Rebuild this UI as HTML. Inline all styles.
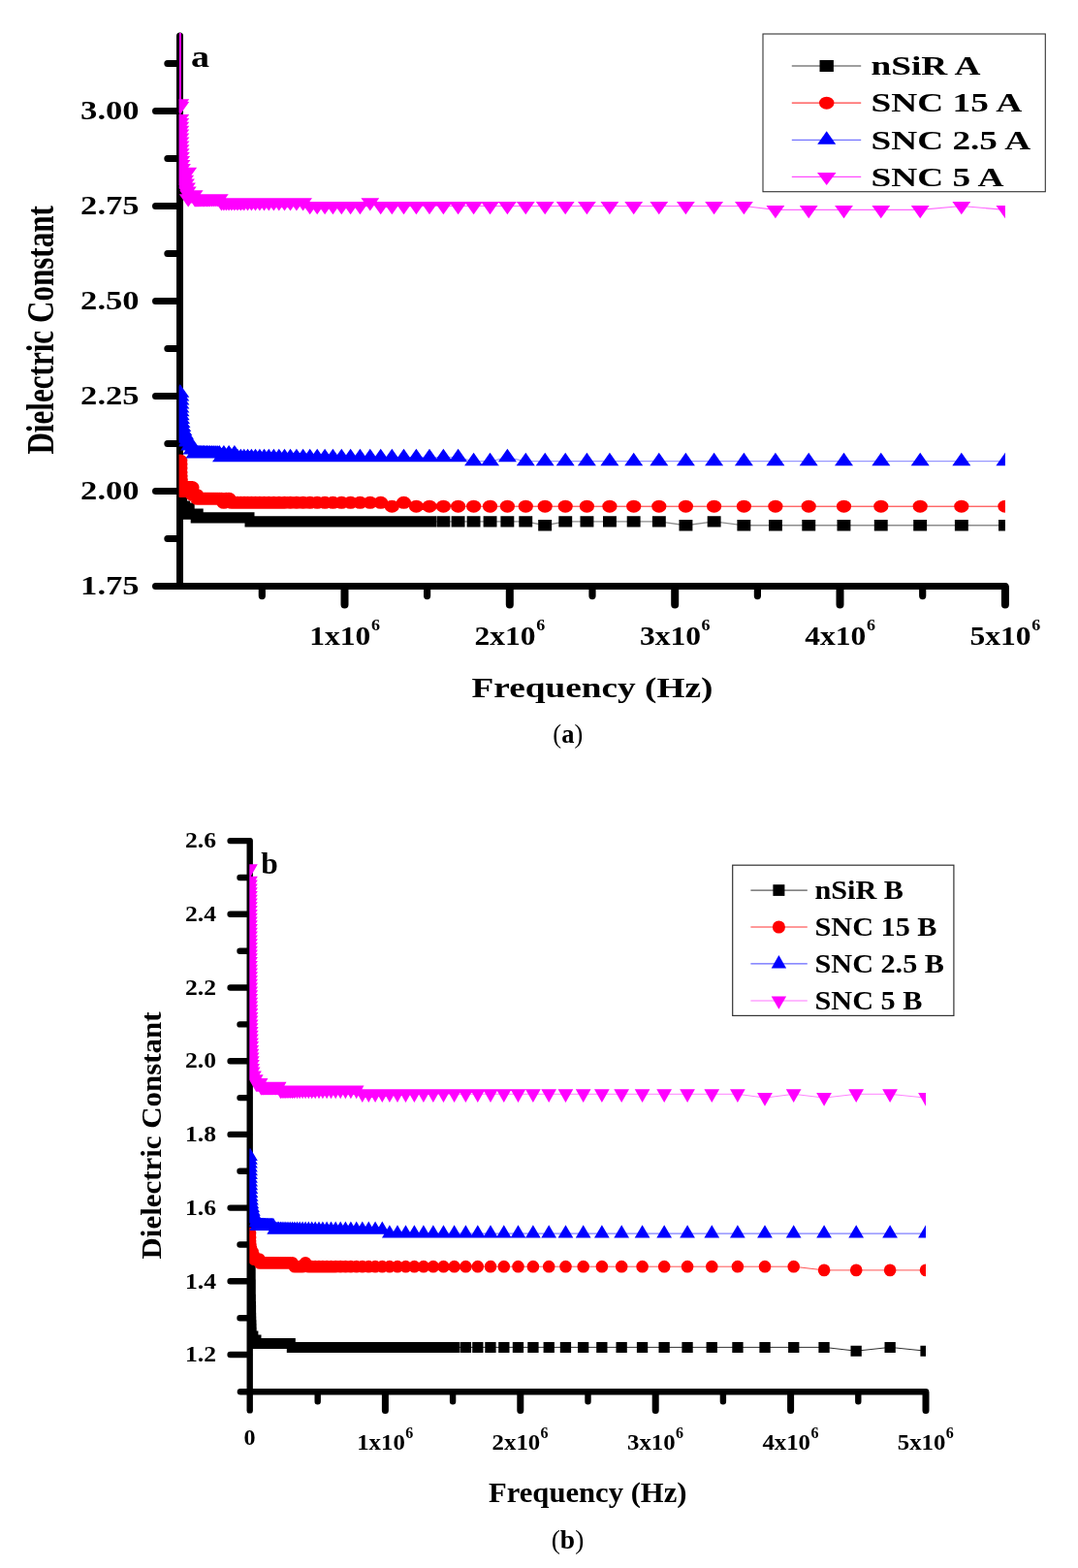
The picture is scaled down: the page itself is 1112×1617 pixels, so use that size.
<!DOCTYPE html>
<html lang="en"><head><meta charset="utf-8"><title>Dielectric Constant vs Frequency</title>
<style>html,body{margin:0;padding:0;background:#fff}svg{display:block}</style></head>
<body>
<svg width="1112" height="1617" viewBox="0 0 1112 1617">
<defs><clipPath id="ca"><rect x="184.6" y="34" width="852.3" height="571"/></clipPath><clipPath id="cb"><rect x="257.3" y="866" width="697.7" height="570"/></clipPath></defs>
<rect width="1112" height="1617" fill="#fff"/>
<g id="chartA" font-family="'Liberation Serif', serif" font-weight="bold" fill="#000">
<g stroke="#000" stroke-linecap="round" fill="none">
<path stroke-width="7" d="M185.5 37V604.5"/>
<path stroke-width="7" d="M160.5 604.6H1037"/>
<path stroke-width="7" d="M160.5 114.5H185M160.5 212.5H185M160.5 310.5H185M160.5 408.5H185M160.5 506.5H185"/>
<path stroke-width="7" d="M172.8 65.5H185M172.8 163.5H185M172.8 261.5H185M172.8 359.5H185M172.8 457.5H185M172.8 555.5H185"/>
<path stroke-width="8" d="M355.5 606V623.5M525.8 606V623.5M696.2 606V623.5M866.5 606V623.5M1036.9 606V623.5"/>
<path stroke-width="7.2" d="M270.3 606V614.6M440.6 606V614.6M611 606V614.6M781.4 606V614.6M951.7 606V614.6"/>
</g>
<g clip-path="url(#ca)">
<polyline fill="none" stroke="#000" stroke-width="1.4" stroke-opacity="0.45" points="185.8,518.3 185.8,518.3 185.8,518.3 185.8,518.3 185.8,518.3 185.8,518.3 185.8,518.3 185.8,518.3 185.8,518.3 185.8,518.3 185.8,518.3 185.8,518.3 185.8,518.3 185.8,518.3 185.8,518.3 185.8,518.3 185.8,518.3 185.8,518.3 185.8,518.3 185.8,518.3 185.8,518.3 185.9,518.3 185.9,518.3 185.9,518.3 185.9,518.3 185.9,518.3 185.9,518.3 185.9,518.3 185.9,518.3 185.9,518.3 185.9,518.3 185.9,518.3 185.9,518.3 185.9,518.3 185.9,518.3 185.9,518.3 185.9,518.3 185.9,518.3 185.9,518.3 185.9,518.3 185.9,518.3 185.9,518.3 186,518.3 186,518.3 186,518.3 186,518.3 186,518.3 186,518.3 186,518.3 186,518.3 186,522.2 186.1,522.2 186.1,522.2 186.1,522.2 186.1,522.2 186.1,522.2 186.1,522.2 186.2,522.2 186.2,522.2 186.2,522.2 186.2,522.2 186.2,522.2 186.3,522.2 186.3,522.2 186.3,522.2 186.4,522.2 186.4,522.2 186.4,522.2 186.4,522.2 186.5,522.2 186.5,522.2 186.6,522.2 186.6,522.2 186.7,522.2 186.7,522.2 186.7,522.2 186.8,522.2 186.9,522.2 186.9,522.2 187,522.2 187,522.2 187.1,522.2 187.2,522.2 187.3,522.2 187.3,522.2 187.4,522.2 187.5,522.2 187.6,522.2 187.7,522.2 187.8,522.2 187.9,522.2 188.1,522.2 188.2,522.2 188.3,522.2 188.5,522.2 188.6,522.2 188.8,522.2 188.9,522.2 189.1,522.2 189.3,524.1 189.5,524.1 189.7,524.1 189.9,524.1 190.2,524.1 190.4,524.1 190.7,524.1 190.9,524.1 191.2,524.1 191.5,524.1 191.8,524.1 192.2,524.1 192.5,524.1 192.9,524.1 193.3,524.1 193.7,524.1 194.2,530 194.6,530 195.1,530 195.6,530 196.2,530 196.8,530 197.4,530 198,530 198.7,530 199.4,530 200.2,530 201,530 201.9,530 202.7,530 203.7,533.9 204.7,533.9 205.8,533.9 206.9,533.9 208,533.9 209.3,533.9 210.6,533.9 212,533.9 213.5,533.9 215,533.9 216.6,533.9 218.4,533.9 220.2,533.9 222.1,533.9 224.1,533.9 226.3,533.9 228.5,533.9 230.9,533.9 233.4,533.9 236.1,533.9 238.9,533.9 241.9,533.9 245,533.9 248.3,533.9 251.8,533.9 255.5,533.9 259.4,537.9 263.5,537.9 267.9,537.9 272.5,537.9 277.3,537.9 282.4,537.9 287.8,537.9 293.5,537.9 299.5,537.9 305.9,537.9 312.6,537.9 319.7,537.9 327.2,537.9 335.1,537.9 343.4,537.9 352.3,537.9 361.6,537.9 371.4,537.9 381.8,537.9 392.7,537.9 404.3,537.9 416.5,537.9 429.4,537.9 443,537.9 457.4,537.9 472.6,537.9 488.6,537.9 505.5,537.9 523.4,537.9 542.3,537.9 562.2,541.8 583.2,537.9 605.4,537.9 628.9,537.9 653.7,537.9 679.8,537.9 707.4,541.8 736.6,537.9 767.4,541.8 799.9,541.8 834.2,541.8 870.5,541.8 908.8,541.8 949.2,541.8 991.8,541.8 1036.9,541.8"/>
<path fill="#000" d="M178.9 512.6h13.9v11.3h-13.9zM178.9 512.6h13.9v11.3h-13.9zM178.9 512.6h13.9v11.3h-13.9zM178.9 512.6h13.9v11.3h-13.9zM178.9 512.6h13.9v11.3h-13.9zM178.9 512.6h13.9v11.3h-13.9zM178.9 512.6h13.9v11.3h-13.9zM178.9 512.6h13.9v11.3h-13.9zM178.9 512.6h13.9v11.3h-13.9zM178.9 512.6h13.9v11.3h-13.9zM178.9 512.6h13.9v11.3h-13.9zM178.9 512.6h13.9v11.3h-13.9zM178.9 512.6h13.9v11.3h-13.9zM178.9 512.6h13.9v11.3h-13.9zM178.9 512.6h13.9v11.3h-13.9zM178.9 512.6h13.9v11.3h-13.9zM178.9 512.6h13.9v11.3h-13.9zM178.9 512.6h13.9v11.3h-13.9zM178.9 512.6h13.9v11.3h-13.9zM178.9 512.6h13.9v11.3h-13.9zM178.9 512.6h13.9v11.3h-13.9zM178.9 512.6h13.9v11.3h-13.9zM178.9 512.6h13.9v11.3h-13.9zM178.9 512.6h13.9v11.3h-13.9zM178.9 512.6h13.9v11.3h-13.9zM178.9 512.6h13.9v11.3h-13.9zM178.9 512.6h13.9v11.3h-13.9zM178.9 512.6h13.9v11.3h-13.9zM178.9 512.6h13.9v11.3h-13.9zM178.9 512.6h13.9v11.3h-13.9zM178.9 512.6h13.9v11.3h-13.9zM178.9 512.6h13.9v11.3h-13.9zM178.9 512.6h13.9v11.3h-13.9zM178.9 512.6h13.9v11.3h-13.9zM179 512.6h13.9v11.3h-13.9zM179 512.6h13.9v11.3h-13.9zM179 512.6h13.9v11.3h-13.9zM179 512.6h13.9v11.3h-13.9zM179 512.6h13.9v11.3h-13.9zM179 512.6h13.9v11.3h-13.9zM179 512.6h13.9v11.3h-13.9zM179 512.6h13.9v11.3h-13.9zM179 512.6h13.9v11.3h-13.9zM179 512.6h13.9v11.3h-13.9zM179 512.6h13.9v11.3h-13.9zM179 512.6h13.9v11.3h-13.9zM179 512.6h13.9v11.3h-13.9zM179.1 512.6h13.9v11.3h-13.9zM179.1 512.6h13.9v11.3h-13.9zM179.1 512.6h13.9v11.3h-13.9zM179.1 516.5h13.9v11.3h-13.9zM179.1 516.5h13.9v11.3h-13.9zM179.1 516.5h13.9v11.3h-13.9zM179.1 516.5h13.9v11.3h-13.9zM179.2 516.5h13.9v11.3h-13.9zM179.2 516.5h13.9v11.3h-13.9zM179.2 516.5h13.9v11.3h-13.9zM179.2 516.5h13.9v11.3h-13.9zM179.2 516.5h13.9v11.3h-13.9zM179.2 516.5h13.9v11.3h-13.9zM179.3 516.5h13.9v11.3h-13.9zM179.3 516.5h13.9v11.3h-13.9zM179.3 516.5h13.9v11.3h-13.9zM179.3 516.5h13.9v11.3h-13.9zM179.4 516.5h13.9v11.3h-13.9zM179.4 516.5h13.9v11.3h-13.9zM179.4 516.5h13.9v11.3h-13.9zM179.5 516.5h13.9v11.3h-13.9zM179.5 516.5h13.9v11.3h-13.9zM179.5 516.5h13.9v11.3h-13.9zM179.6 516.5h13.9v11.3h-13.9zM179.6 516.5h13.9v11.3h-13.9zM179.7 516.5h13.9v11.3h-13.9zM179.7 516.5h13.9v11.3h-13.9zM179.7 516.5h13.9v11.3h-13.9zM179.8 516.5h13.9v11.3h-13.9zM179.9 516.5h13.9v11.3h-13.9zM179.9 516.5h13.9v11.3h-13.9zM180 516.5h13.9v11.3h-13.9zM180 516.5h13.9v11.3h-13.9zM180.1 516.5h13.9v11.3h-13.9zM180.2 516.5h13.9v11.3h-13.9zM180.2 516.5h13.9v11.3h-13.9zM180.3 516.5h13.9v11.3h-13.9zM180.4 516.5h13.9v11.3h-13.9zM180.5 516.5h13.9v11.3h-13.9zM180.6 516.5h13.9v11.3h-13.9zM180.7 516.5h13.9v11.3h-13.9zM180.8 516.5h13.9v11.3h-13.9zM180.9 516.5h13.9v11.3h-13.9zM181 516.5h13.9v11.3h-13.9zM181.1 516.5h13.9v11.3h-13.9zM181.2 516.5h13.9v11.3h-13.9zM181.4 516.5h13.9v11.3h-13.9zM181.5 516.5h13.9v11.3h-13.9zM181.7 516.5h13.9v11.3h-13.9zM181.8 516.5h13.9v11.3h-13.9zM182 516.5h13.9v11.3h-13.9zM182.2 516.5h13.9v11.3h-13.9zM182.4 518.5h13.9v11.3h-13.9zM182.5 518.5h13.9v11.3h-13.9zM182.8 518.5h13.9v11.3h-13.9zM183 518.5h13.9v11.3h-13.9zM183.2 518.5h13.9v11.3h-13.9zM183.4 518.5h13.9v11.3h-13.9zM183.7 518.5h13.9v11.3h-13.9zM184 518.5h13.9v11.3h-13.9zM184.3 518.5h13.9v11.3h-13.9zM184.6 518.5h13.9v11.3h-13.9zM184.9 518.5h13.9v11.3h-13.9zM185.2 518.5h13.9v11.3h-13.9zM185.6 518.5h13.9v11.3h-13.9zM185.9 518.5h13.9v11.3h-13.9zM186.3 518.5h13.9v11.3h-13.9zM186.8 518.5h13.9v11.3h-13.9zM187.2 524.4h13.9v11.3h-13.9zM187.7 524.4h13.9v11.3h-13.9zM188.2 524.4h13.9v11.3h-13.9zM188.7 524.4h13.9v11.3h-13.9zM189.2 524.4h13.9v11.3h-13.9zM189.8 524.4h13.9v11.3h-13.9zM190.4 524.4h13.9v11.3h-13.9zM191.1 524.4h13.9v11.3h-13.9zM191.8 524.4h13.9v11.3h-13.9zM192.5 524.4h13.9v11.3h-13.9zM193.2 524.4h13.9v11.3h-13.9zM194.1 524.4h13.9v11.3h-13.9zM194.9 524.4h13.9v11.3h-13.9zM195.8 524.4h13.9v11.3h-13.9zM196.7 528.3h13.9v11.3h-13.9zM197.7 528.3h13.9v11.3h-13.9zM198.8 528.3h13.9v11.3h-13.9zM199.9 528.3h13.9v11.3h-13.9zM201.1 528.3h13.9v11.3h-13.9zM202.3 528.3h13.9v11.3h-13.9zM203.7 528.3h13.9v11.3h-13.9zM205 528.3h13.9v11.3h-13.9zM206.5 528.3h13.9v11.3h-13.9zM208 528.3h13.9v11.3h-13.9zM209.7 528.3h13.9v11.3h-13.9zM211.4 528.3h13.9v11.3h-13.9zM213.2 528.3h13.9v11.3h-13.9zM215.1 528.3h13.9v11.3h-13.9zM217.2 528.3h13.9v11.3h-13.9zM219.3 528.3h13.9v11.3h-13.9zM221.6 528.3h13.9v11.3h-13.9zM224 528.3h13.9v11.3h-13.9zM226.5 528.3h13.9v11.3h-13.9zM229.2 528.3h13.9v11.3h-13.9zM232 528.3h13.9v11.3h-13.9zM234.9 528.3h13.9v11.3h-13.9zM238.1 528.3h13.9v11.3h-13.9zM241.4 528.3h13.9v11.3h-13.9zM244.9 528.3h13.9v11.3h-13.9zM248.6 528.3h13.9v11.3h-13.9zM252.5 532.2h13.9v11.3h-13.9zM256.6 532.2h13.9v11.3h-13.9zM260.9 532.2h13.9v11.3h-13.9zM265.5 532.2h13.9v11.3h-13.9zM270.4 532.2h13.9v11.3h-13.9zM275.5 532.2h13.9v11.3h-13.9zM280.9 532.2h13.9v11.3h-13.9zM286.6 532.2h13.9v11.3h-13.9zM292.6 532.2h13.9v11.3h-13.9zM299 532.2h13.9v11.3h-13.9zM305.7 532.2h13.9v11.3h-13.9zM312.8 532.2h13.9v11.3h-13.9zM320.2 532.2h13.9v11.3h-13.9zM328.1 532.2h13.9v11.3h-13.9zM336.5 532.2h13.9v11.3h-13.9zM345.3 532.2h13.9v11.3h-13.9zM354.6 532.2h13.9v11.3h-13.9zM364.4 532.2h13.9v11.3h-13.9zM374.8 532.2h13.9v11.3h-13.9zM385.8 532.2h13.9v11.3h-13.9zM397.3 532.2h13.9v11.3h-13.9zM409.5 532.2h13.9v11.3h-13.9zM422.4 532.2h13.9v11.3h-13.9zM436.1 532.2h13.9v11.3h-13.9zM450.4 532.2h13.9v11.3h-13.9zM465.6 532.2h13.9v11.3h-13.9zM481.6 532.2h13.9v11.3h-13.9zM498.6 532.2h13.9v11.3h-13.9zM516.4 532.2h13.9v11.3h-13.9zM535.3 532.2h13.9v11.3h-13.9zM555.2 536.1h13.9v11.3h-13.9zM576.3 532.2h13.9v11.3h-13.9zM598.5 532.2h13.9v11.3h-13.9zM622 532.2h13.9v11.3h-13.9zM646.7 532.2h13.9v11.3h-13.9zM672.9 532.2h13.9v11.3h-13.9zM700.5 536.1h13.9v11.3h-13.9zM729.7 532.2h13.9v11.3h-13.9zM760.4 536.1h13.9v11.3h-13.9zM793 536.1h13.9v11.3h-13.9zM827.3 536.1h13.9v11.3h-13.9zM863.5 536.1h13.9v11.3h-13.9zM901.8 536.1h13.9v11.3h-13.9zM942.2 536.1h13.9v11.3h-13.9zM984.9 536.1h13.9v11.3h-13.9zM1030 536.1h13.9v11.3h-13.9z"/>
<polyline fill="none" stroke="#f00" stroke-width="1.0" stroke-opacity="0.85" points="185.8,475.1 185.8,475.1 185.8,475.1 185.8,475.1 185.8,475.1 185.8,475.1 185.8,475.1 185.8,475.1 185.8,475.1 185.8,475.1 185.8,475.1 185.8,475.1 185.8,479.1 185.8,479.1 185.8,479.1 185.8,479.1 185.8,479.1 185.8,479.1 185.8,479.1 185.8,479.1 185.8,479.1 185.9,479.1 185.9,483 185.9,483 185.9,483 185.9,483 185.9,483 185.9,483 185.9,483 185.9,483 185.9,483 185.9,483 185.9,483 185.9,486.9 185.9,486.9 185.9,486.9 185.9,486.9 185.9,486.9 185.9,486.9 185.9,486.9 185.9,486.9 185.9,486.9 186,486.9 186,490.8 186,490.8 186,490.8 186,490.8 186,490.8 186,490.8 186,490.8 186,490.8 186.1,490.8 186.1,490.8 186.1,494.7 186.1,494.7 186.1,494.7 186.1,494.7 186.2,494.7 186.2,494.7 186.2,494.7 186.2,494.7 186.2,494.7 186.3,494.7 186.3,494.7 186.3,498.7 186.4,498.7 186.4,498.7 186.4,498.7 186.4,498.7 186.5,498.7 186.5,498.7 186.6,498.7 186.6,498.7 186.7,498.7 186.7,502.6 186.7,502.6 186.8,502.6 186.9,502.6 186.9,502.6 187,502.6 187,502.6 187.1,502.6 187.2,502.6 187.3,502.6 187.3,506.5 187.4,506.5 187.5,506.5 187.6,506.5 187.7,506.5 187.8,506.5 187.9,506.5 188.1,506.5 188.2,506.5 188.3,506.5 188.5,506.5 188.6,506.5 188.8,506.5 188.9,506.5 189.1,506.5 189.3,506.5 189.5,506.5 189.7,506.5 189.9,506.5 190.2,506.5 190.4,506.5 190.7,506.5 190.9,506.5 191.2,506.5 191.5,506.5 191.8,506.5 192.2,506.5 192.5,506.5 192.9,506.5 193.3,506.5 193.7,506.5 194.2,506.5 194.6,502.6 195.1,502.6 195.6,502.6 196.2,502.6 196.8,502.6 197.4,502.6 198,502.6 198.7,510.4 199.4,510.4 200.2,510.4 201,510.4 201.9,510.4 202.7,510.4 203.7,514.3 204.7,514.3 205.8,514.3 206.9,514.3 208,514.3 209.3,514.3 210.6,514.3 212,514.3 213.5,514.3 215,514.3 216.6,514.3 218.4,514.3 220.2,514.3 222.1,514.3 224.1,514.3 226.3,514.3 228.5,514.3 230.9,518.3 233.4,514.3 236.1,514.3 238.9,518.3 241.9,518.3 245,518.3 248.3,518.3 251.8,518.3 255.5,518.3 259.4,518.3 263.5,518.3 267.9,518.3 272.5,518.3 277.3,518.3 282.4,518.3 287.8,518.3 293.5,518.3 299.5,518.3 305.9,518.3 312.6,518.3 319.7,518.3 327.2,518.3 335.1,518.3 343.4,518.3 352.3,518.3 361.6,518.3 371.4,518.3 381.8,518.3 392.7,518.3 404.3,522.2 416.5,518.3 429.4,522.2 443,522.2 457.4,522.2 472.6,522.2 488.6,522.2 505.5,522.2 523.4,522.2 542.3,522.2 562.2,522.2 583.2,522.2 605.4,522.2 628.9,522.2 653.7,522.2 679.8,522.2 707.4,522.2 736.6,522.2 767.4,522.2 799.9,522.2 834.2,522.2 870.5,522.2 908.8,522.2 949.2,522.2 991.8,522.2 1036.9,522.2"/>
<path fill="#f00" d="M178.2 475.1a7.6 6.5 0 1 0 15.2 0a7.6 6.5 0 1 0 -15.2 0zM178.2 475.1a7.6 6.5 0 1 0 15.2 0a7.6 6.5 0 1 0 -15.2 0zM178.2 475.1a7.6 6.5 0 1 0 15.2 0a7.6 6.5 0 1 0 -15.2 0zM178.2 475.1a7.6 6.5 0 1 0 15.2 0a7.6 6.5 0 1 0 -15.2 0zM178.2 475.1a7.6 6.5 0 1 0 15.2 0a7.6 6.5 0 1 0 -15.2 0zM178.2 475.1a7.6 6.5 0 1 0 15.2 0a7.6 6.5 0 1 0 -15.2 0zM178.2 475.1a7.6 6.5 0 1 0 15.2 0a7.6 6.5 0 1 0 -15.2 0zM178.2 475.1a7.6 6.5 0 1 0 15.2 0a7.6 6.5 0 1 0 -15.2 0zM178.2 475.1a7.6 6.5 0 1 0 15.2 0a7.6 6.5 0 1 0 -15.2 0zM178.2 475.1a7.6 6.5 0 1 0 15.2 0a7.6 6.5 0 1 0 -15.2 0zM178.2 475.1a7.6 6.5 0 1 0 15.2 0a7.6 6.5 0 1 0 -15.2 0zM178.2 475.1a7.6 6.5 0 1 0 15.2 0a7.6 6.5 0 1 0 -15.2 0zM178.2 479.1a7.6 6.5 0 1 0 15.2 0a7.6 6.5 0 1 0 -15.2 0zM178.2 479.1a7.6 6.5 0 1 0 15.2 0a7.6 6.5 0 1 0 -15.2 0zM178.2 479.1a7.6 6.5 0 1 0 15.2 0a7.6 6.5 0 1 0 -15.2 0zM178.2 479.1a7.6 6.5 0 1 0 15.2 0a7.6 6.5 0 1 0 -15.2 0zM178.2 479.1a7.6 6.5 0 1 0 15.2 0a7.6 6.5 0 1 0 -15.2 0zM178.2 479.1a7.6 6.5 0 1 0 15.2 0a7.6 6.5 0 1 0 -15.2 0zM178.2 479.1a7.6 6.5 0 1 0 15.2 0a7.6 6.5 0 1 0 -15.2 0zM178.2 479.1a7.6 6.5 0 1 0 15.2 0a7.6 6.5 0 1 0 -15.2 0zM178.2 479.1a7.6 6.5 0 1 0 15.2 0a7.6 6.5 0 1 0 -15.2 0zM178.3 479.1a7.6 6.5 0 1 0 15.2 0a7.6 6.5 0 1 0 -15.2 0zM178.3 483a7.6 6.5 0 1 0 15.2 0a7.6 6.5 0 1 0 -15.2 0zM178.3 483a7.6 6.5 0 1 0 15.2 0a7.6 6.5 0 1 0 -15.2 0zM178.3 483a7.6 6.5 0 1 0 15.2 0a7.6 6.5 0 1 0 -15.2 0zM178.3 483a7.6 6.5 0 1 0 15.2 0a7.6 6.5 0 1 0 -15.2 0zM178.3 483a7.6 6.5 0 1 0 15.2 0a7.6 6.5 0 1 0 -15.2 0zM178.3 483a7.6 6.5 0 1 0 15.2 0a7.6 6.5 0 1 0 -15.2 0zM178.3 483a7.6 6.5 0 1 0 15.2 0a7.6 6.5 0 1 0 -15.2 0zM178.3 483a7.6 6.5 0 1 0 15.2 0a7.6 6.5 0 1 0 -15.2 0zM178.3 483a7.6 6.5 0 1 0 15.2 0a7.6 6.5 0 1 0 -15.2 0zM178.3 483a7.6 6.5 0 1 0 15.2 0a7.6 6.5 0 1 0 -15.2 0zM178.3 483a7.6 6.5 0 1 0 15.2 0a7.6 6.5 0 1 0 -15.2 0zM178.3 486.9a7.6 6.5 0 1 0 15.2 0a7.6 6.5 0 1 0 -15.2 0zM178.3 486.9a7.6 6.5 0 1 0 15.2 0a7.6 6.5 0 1 0 -15.2 0zM178.3 486.9a7.6 6.5 0 1 0 15.2 0a7.6 6.5 0 1 0 -15.2 0zM178.3 486.9a7.6 6.5 0 1 0 15.2 0a7.6 6.5 0 1 0 -15.2 0zM178.3 486.9a7.6 6.5 0 1 0 15.2 0a7.6 6.5 0 1 0 -15.2 0zM178.3 486.9a7.6 6.5 0 1 0 15.2 0a7.6 6.5 0 1 0 -15.2 0zM178.3 486.9a7.6 6.5 0 1 0 15.2 0a7.6 6.5 0 1 0 -15.2 0zM178.3 486.9a7.6 6.5 0 1 0 15.2 0a7.6 6.5 0 1 0 -15.2 0zM178.3 486.9a7.6 6.5 0 1 0 15.2 0a7.6 6.5 0 1 0 -15.2 0zM178.4 486.9a7.6 6.5 0 1 0 15.2 0a7.6 6.5 0 1 0 -15.2 0zM178.4 490.8a7.6 6.5 0 1 0 15.2 0a7.6 6.5 0 1 0 -15.2 0zM178.4 490.8a7.6 6.5 0 1 0 15.2 0a7.6 6.5 0 1 0 -15.2 0zM178.4 490.8a7.6 6.5 0 1 0 15.2 0a7.6 6.5 0 1 0 -15.2 0zM178.4 490.8a7.6 6.5 0 1 0 15.2 0a7.6 6.5 0 1 0 -15.2 0zM178.4 490.8a7.6 6.5 0 1 0 15.2 0a7.6 6.5 0 1 0 -15.2 0zM178.4 490.8a7.6 6.5 0 1 0 15.2 0a7.6 6.5 0 1 0 -15.2 0zM178.4 490.8a7.6 6.5 0 1 0 15.2 0a7.6 6.5 0 1 0 -15.2 0zM178.4 490.8a7.6 6.5 0 1 0 15.2 0a7.6 6.5 0 1 0 -15.2 0zM178.5 490.8a7.6 6.5 0 1 0 15.2 0a7.6 6.5 0 1 0 -15.2 0zM178.5 490.8a7.6 6.5 0 1 0 15.2 0a7.6 6.5 0 1 0 -15.2 0zM178.5 494.7a7.6 6.5 0 1 0 15.2 0a7.6 6.5 0 1 0 -15.2 0zM178.5 494.7a7.6 6.5 0 1 0 15.2 0a7.6 6.5 0 1 0 -15.2 0zM178.5 494.7a7.6 6.5 0 1 0 15.2 0a7.6 6.5 0 1 0 -15.2 0zM178.5 494.7a7.6 6.5 0 1 0 15.2 0a7.6 6.5 0 1 0 -15.2 0zM178.6 494.7a7.6 6.5 0 1 0 15.2 0a7.6 6.5 0 1 0 -15.2 0zM178.6 494.7a7.6 6.5 0 1 0 15.2 0a7.6 6.5 0 1 0 -15.2 0zM178.6 494.7a7.6 6.5 0 1 0 15.2 0a7.6 6.5 0 1 0 -15.2 0zM178.6 494.7a7.6 6.5 0 1 0 15.2 0a7.6 6.5 0 1 0 -15.2 0zM178.6 494.7a7.6 6.5 0 1 0 15.2 0a7.6 6.5 0 1 0 -15.2 0zM178.7 494.7a7.6 6.5 0 1 0 15.2 0a7.6 6.5 0 1 0 -15.2 0zM178.7 494.7a7.6 6.5 0 1 0 15.2 0a7.6 6.5 0 1 0 -15.2 0zM178.7 498.7a7.6 6.5 0 1 0 15.2 0a7.6 6.5 0 1 0 -15.2 0zM178.8 498.7a7.6 6.5 0 1 0 15.2 0a7.6 6.5 0 1 0 -15.2 0zM178.8 498.7a7.6 6.5 0 1 0 15.2 0a7.6 6.5 0 1 0 -15.2 0zM178.8 498.7a7.6 6.5 0 1 0 15.2 0a7.6 6.5 0 1 0 -15.2 0zM178.8 498.7a7.6 6.5 0 1 0 15.2 0a7.6 6.5 0 1 0 -15.2 0zM178.9 498.7a7.6 6.5 0 1 0 15.2 0a7.6 6.5 0 1 0 -15.2 0zM178.9 498.7a7.6 6.5 0 1 0 15.2 0a7.6 6.5 0 1 0 -15.2 0zM179 498.7a7.6 6.5 0 1 0 15.2 0a7.6 6.5 0 1 0 -15.2 0zM179 498.7a7.6 6.5 0 1 0 15.2 0a7.6 6.5 0 1 0 -15.2 0zM179.1 498.7a7.6 6.5 0 1 0 15.2 0a7.6 6.5 0 1 0 -15.2 0zM179.1 502.6a7.6 6.5 0 1 0 15.2 0a7.6 6.5 0 1 0 -15.2 0zM179.1 502.6a7.6 6.5 0 1 0 15.2 0a7.6 6.5 0 1 0 -15.2 0zM179.2 502.6a7.6 6.5 0 1 0 15.2 0a7.6 6.5 0 1 0 -15.2 0zM179.3 502.6a7.6 6.5 0 1 0 15.2 0a7.6 6.5 0 1 0 -15.2 0zM179.3 502.6a7.6 6.5 0 1 0 15.2 0a7.6 6.5 0 1 0 -15.2 0zM179.4 502.6a7.6 6.5 0 1 0 15.2 0a7.6 6.5 0 1 0 -15.2 0zM179.4 502.6a7.6 6.5 0 1 0 15.2 0a7.6 6.5 0 1 0 -15.2 0zM179.5 502.6a7.6 6.5 0 1 0 15.2 0a7.6 6.5 0 1 0 -15.2 0zM179.6 502.6a7.6 6.5 0 1 0 15.2 0a7.6 6.5 0 1 0 -15.2 0zM179.7 502.6a7.6 6.5 0 1 0 15.2 0a7.6 6.5 0 1 0 -15.2 0zM179.7 506.5a7.6 6.5 0 1 0 15.2 0a7.6 6.5 0 1 0 -15.2 0zM179.8 506.5a7.6 6.5 0 1 0 15.2 0a7.6 6.5 0 1 0 -15.2 0zM179.9 506.5a7.6 6.5 0 1 0 15.2 0a7.6 6.5 0 1 0 -15.2 0zM180 506.5a7.6 6.5 0 1 0 15.2 0a7.6 6.5 0 1 0 -15.2 0zM180.1 506.5a7.6 6.5 0 1 0 15.2 0a7.6 6.5 0 1 0 -15.2 0zM180.2 506.5a7.6 6.5 0 1 0 15.2 0a7.6 6.5 0 1 0 -15.2 0zM180.3 506.5a7.6 6.5 0 1 0 15.2 0a7.6 6.5 0 1 0 -15.2 0zM180.5 506.5a7.6 6.5 0 1 0 15.2 0a7.6 6.5 0 1 0 -15.2 0zM180.6 506.5a7.6 6.5 0 1 0 15.2 0a7.6 6.5 0 1 0 -15.2 0zM180.7 506.5a7.6 6.5 0 1 0 15.2 0a7.6 6.5 0 1 0 -15.2 0zM180.9 506.5a7.6 6.5 0 1 0 15.2 0a7.6 6.5 0 1 0 -15.2 0zM181 506.5a7.6 6.5 0 1 0 15.2 0a7.6 6.5 0 1 0 -15.2 0zM181.2 506.5a7.6 6.5 0 1 0 15.2 0a7.6 6.5 0 1 0 -15.2 0zM181.3 506.5a7.6 6.5 0 1 0 15.2 0a7.6 6.5 0 1 0 -15.2 0zM181.5 506.5a7.6 6.5 0 1 0 15.2 0a7.6 6.5 0 1 0 -15.2 0zM181.7 506.5a7.6 6.5 0 1 0 15.2 0a7.6 6.5 0 1 0 -15.2 0zM181.9 506.5a7.6 6.5 0 1 0 15.2 0a7.6 6.5 0 1 0 -15.2 0zM182.1 506.5a7.6 6.5 0 1 0 15.2 0a7.6 6.5 0 1 0 -15.2 0zM182.3 506.5a7.6 6.5 0 1 0 15.2 0a7.6 6.5 0 1 0 -15.2 0zM182.6 506.5a7.6 6.5 0 1 0 15.2 0a7.6 6.5 0 1 0 -15.2 0zM182.8 506.5a7.6 6.5 0 1 0 15.2 0a7.6 6.5 0 1 0 -15.2 0zM183.1 506.5a7.6 6.5 0 1 0 15.2 0a7.6 6.5 0 1 0 -15.2 0zM183.3 506.5a7.6 6.5 0 1 0 15.2 0a7.6 6.5 0 1 0 -15.2 0zM183.6 506.5a7.6 6.5 0 1 0 15.2 0a7.6 6.5 0 1 0 -15.2 0zM183.9 506.5a7.6 6.5 0 1 0 15.2 0a7.6 6.5 0 1 0 -15.2 0zM184.2 506.5a7.6 6.5 0 1 0 15.2 0a7.6 6.5 0 1 0 -15.2 0zM184.6 506.5a7.6 6.5 0 1 0 15.2 0a7.6 6.5 0 1 0 -15.2 0zM184.9 506.5a7.6 6.5 0 1 0 15.2 0a7.6 6.5 0 1 0 -15.2 0zM185.3 506.5a7.6 6.5 0 1 0 15.2 0a7.6 6.5 0 1 0 -15.2 0zM185.7 506.5a7.6 6.5 0 1 0 15.2 0a7.6 6.5 0 1 0 -15.2 0zM186.1 506.5a7.6 6.5 0 1 0 15.2 0a7.6 6.5 0 1 0 -15.2 0zM186.6 506.5a7.6 6.5 0 1 0 15.2 0a7.6 6.5 0 1 0 -15.2 0zM187 502.6a7.6 6.5 0 1 0 15.2 0a7.6 6.5 0 1 0 -15.2 0zM187.5 502.6a7.6 6.5 0 1 0 15.2 0a7.6 6.5 0 1 0 -15.2 0zM188 502.6a7.6 6.5 0 1 0 15.2 0a7.6 6.5 0 1 0 -15.2 0zM188.6 502.6a7.6 6.5 0 1 0 15.2 0a7.6 6.5 0 1 0 -15.2 0zM189.2 502.6a7.6 6.5 0 1 0 15.2 0a7.6 6.5 0 1 0 -15.2 0zM189.8 502.6a7.6 6.5 0 1 0 15.2 0a7.6 6.5 0 1 0 -15.2 0zM190.4 502.6a7.6 6.5 0 1 0 15.2 0a7.6 6.5 0 1 0 -15.2 0zM191.1 510.4a7.6 6.5 0 1 0 15.2 0a7.6 6.5 0 1 0 -15.2 0zM191.8 510.4a7.6 6.5 0 1 0 15.2 0a7.6 6.5 0 1 0 -15.2 0zM192.6 510.4a7.6 6.5 0 1 0 15.2 0a7.6 6.5 0 1 0 -15.2 0zM193.4 510.4a7.6 6.5 0 1 0 15.2 0a7.6 6.5 0 1 0 -15.2 0zM194.3 510.4a7.6 6.5 0 1 0 15.2 0a7.6 6.5 0 1 0 -15.2 0zM195.1 510.4a7.6 6.5 0 1 0 15.2 0a7.6 6.5 0 1 0 -15.2 0zM196.1 514.3a7.6 6.5 0 1 0 15.2 0a7.6 6.5 0 1 0 -15.2 0zM197.1 514.3a7.6 6.5 0 1 0 15.2 0a7.6 6.5 0 1 0 -15.2 0zM198.2 514.3a7.6 6.5 0 1 0 15.2 0a7.6 6.5 0 1 0 -15.2 0zM199.3 514.3a7.6 6.5 0 1 0 15.2 0a7.6 6.5 0 1 0 -15.2 0zM200.4 514.3a7.6 6.5 0 1 0 15.2 0a7.6 6.5 0 1 0 -15.2 0zM201.7 514.3a7.6 6.5 0 1 0 15.2 0a7.6 6.5 0 1 0 -15.2 0zM203 514.3a7.6 6.5 0 1 0 15.2 0a7.6 6.5 0 1 0 -15.2 0zM204.4 514.3a7.6 6.5 0 1 0 15.2 0a7.6 6.5 0 1 0 -15.2 0zM205.9 514.3a7.6 6.5 0 1 0 15.2 0a7.6 6.5 0 1 0 -15.2 0zM207.4 514.3a7.6 6.5 0 1 0 15.2 0a7.6 6.5 0 1 0 -15.2 0zM209 514.3a7.6 6.5 0 1 0 15.2 0a7.6 6.5 0 1 0 -15.2 0zM210.8 514.3a7.6 6.5 0 1 0 15.2 0a7.6 6.5 0 1 0 -15.2 0zM212.6 514.3a7.6 6.5 0 1 0 15.2 0a7.6 6.5 0 1 0 -15.2 0zM214.5 514.3a7.6 6.5 0 1 0 15.2 0a7.6 6.5 0 1 0 -15.2 0zM216.5 514.3a7.6 6.5 0 1 0 15.2 0a7.6 6.5 0 1 0 -15.2 0zM218.7 514.3a7.6 6.5 0 1 0 15.2 0a7.6 6.5 0 1 0 -15.2 0zM220.9 514.3a7.6 6.5 0 1 0 15.2 0a7.6 6.5 0 1 0 -15.2 0zM223.3 518.3a7.6 6.5 0 1 0 15.2 0a7.6 6.5 0 1 0 -15.2 0zM225.8 514.3a7.6 6.5 0 1 0 15.2 0a7.6 6.5 0 1 0 -15.2 0zM228.5 514.3a7.6 6.5 0 1 0 15.2 0a7.6 6.5 0 1 0 -15.2 0zM231.3 518.3a7.6 6.5 0 1 0 15.2 0a7.6 6.5 0 1 0 -15.2 0zM234.3 518.3a7.6 6.5 0 1 0 15.2 0a7.6 6.5 0 1 0 -15.2 0zM237.4 518.3a7.6 6.5 0 1 0 15.2 0a7.6 6.5 0 1 0 -15.2 0zM240.7 518.3a7.6 6.5 0 1 0 15.2 0a7.6 6.5 0 1 0 -15.2 0zM244.2 518.3a7.6 6.5 0 1 0 15.2 0a7.6 6.5 0 1 0 -15.2 0zM247.9 518.3a7.6 6.5 0 1 0 15.2 0a7.6 6.5 0 1 0 -15.2 0zM251.8 518.3a7.6 6.5 0 1 0 15.2 0a7.6 6.5 0 1 0 -15.2 0zM255.9 518.3a7.6 6.5 0 1 0 15.2 0a7.6 6.5 0 1 0 -15.2 0zM260.3 518.3a7.6 6.5 0 1 0 15.2 0a7.6 6.5 0 1 0 -15.2 0zM264.9 518.3a7.6 6.5 0 1 0 15.2 0a7.6 6.5 0 1 0 -15.2 0zM269.7 518.3a7.6 6.5 0 1 0 15.2 0a7.6 6.5 0 1 0 -15.2 0zM274.8 518.3a7.6 6.5 0 1 0 15.2 0a7.6 6.5 0 1 0 -15.2 0zM280.2 518.3a7.6 6.5 0 1 0 15.2 0a7.6 6.5 0 1 0 -15.2 0zM285.9 518.3a7.6 6.5 0 1 0 15.2 0a7.6 6.5 0 1 0 -15.2 0zM291.9 518.3a7.6 6.5 0 1 0 15.2 0a7.6 6.5 0 1 0 -15.2 0zM298.3 518.3a7.6 6.5 0 1 0 15.2 0a7.6 6.5 0 1 0 -15.2 0zM305 518.3a7.6 6.5 0 1 0 15.2 0a7.6 6.5 0 1 0 -15.2 0zM312.1 518.3a7.6 6.5 0 1 0 15.2 0a7.6 6.5 0 1 0 -15.2 0zM319.6 518.3a7.6 6.5 0 1 0 15.2 0a7.6 6.5 0 1 0 -15.2 0zM327.5 518.3a7.6 6.5 0 1 0 15.2 0a7.6 6.5 0 1 0 -15.2 0zM335.8 518.3a7.6 6.5 0 1 0 15.2 0a7.6 6.5 0 1 0 -15.2 0zM344.7 518.3a7.6 6.5 0 1 0 15.2 0a7.6 6.5 0 1 0 -15.2 0zM354 518.3a7.6 6.5 0 1 0 15.2 0a7.6 6.5 0 1 0 -15.2 0zM363.8 518.3a7.6 6.5 0 1 0 15.2 0a7.6 6.5 0 1 0 -15.2 0zM374.2 518.3a7.6 6.5 0 1 0 15.2 0a7.6 6.5 0 1 0 -15.2 0zM385.1 518.3a7.6 6.5 0 1 0 15.2 0a7.6 6.5 0 1 0 -15.2 0zM396.7 522.2a7.6 6.5 0 1 0 15.2 0a7.6 6.5 0 1 0 -15.2 0zM408.9 518.3a7.6 6.5 0 1 0 15.2 0a7.6 6.5 0 1 0 -15.2 0zM421.8 522.2a7.6 6.5 0 1 0 15.2 0a7.6 6.5 0 1 0 -15.2 0zM435.4 522.2a7.6 6.5 0 1 0 15.2 0a7.6 6.5 0 1 0 -15.2 0zM449.8 522.2a7.6 6.5 0 1 0 15.2 0a7.6 6.5 0 1 0 -15.2 0zM465 522.2a7.6 6.5 0 1 0 15.2 0a7.6 6.5 0 1 0 -15.2 0zM481 522.2a7.6 6.5 0 1 0 15.2 0a7.6 6.5 0 1 0 -15.2 0zM497.9 522.2a7.6 6.5 0 1 0 15.2 0a7.6 6.5 0 1 0 -15.2 0zM515.8 522.2a7.6 6.5 0 1 0 15.2 0a7.6 6.5 0 1 0 -15.2 0zM534.7 522.2a7.6 6.5 0 1 0 15.2 0a7.6 6.5 0 1 0 -15.2 0zM554.6 522.2a7.6 6.5 0 1 0 15.2 0a7.6 6.5 0 1 0 -15.2 0zM575.6 522.2a7.6 6.5 0 1 0 15.2 0a7.6 6.5 0 1 0 -15.2 0zM597.8 522.2a7.6 6.5 0 1 0 15.2 0a7.6 6.5 0 1 0 -15.2 0zM621.3 522.2a7.6 6.5 0 1 0 15.2 0a7.6 6.5 0 1 0 -15.2 0zM646.1 522.2a7.6 6.5 0 1 0 15.2 0a7.6 6.5 0 1 0 -15.2 0zM672.2 522.2a7.6 6.5 0 1 0 15.2 0a7.6 6.5 0 1 0 -15.2 0zM699.8 522.2a7.6 6.5 0 1 0 15.2 0a7.6 6.5 0 1 0 -15.2 0zM729 522.2a7.6 6.5 0 1 0 15.2 0a7.6 6.5 0 1 0 -15.2 0zM759.8 522.2a7.6 6.5 0 1 0 15.2 0a7.6 6.5 0 1 0 -15.2 0zM792.3 522.2a7.6 6.5 0 1 0 15.2 0a7.6 6.5 0 1 0 -15.2 0zM826.6 522.2a7.6 6.5 0 1 0 15.2 0a7.6 6.5 0 1 0 -15.2 0zM862.9 522.2a7.6 6.5 0 1 0 15.2 0a7.6 6.5 0 1 0 -15.2 0zM901.2 522.2a7.6 6.5 0 1 0 15.2 0a7.6 6.5 0 1 0 -15.2 0zM941.6 522.2a7.6 6.5 0 1 0 15.2 0a7.6 6.5 0 1 0 -15.2 0zM984.2 522.2a7.6 6.5 0 1 0 15.2 0a7.6 6.5 0 1 0 -15.2 0zM1029.3 522.2a7.6 6.5 0 1 0 15.2 0a7.6 6.5 0 1 0 -15.2 0z"/>
<polyline fill="none" stroke="#00f" stroke-width="1.0" stroke-opacity="0.5" points="185.8,405.2 185.8,405.2 185.8,409.1 185.8,409.1 185.8,409.1 185.8,409.1 185.8,409.1 185.8,409.1 185.8,409.1 185.8,409.1 185.8,409.1 185.8,409.1 185.8,413 185.8,413 185.8,413 185.8,413 185.8,413 185.8,413 185.8,413 185.8,413 185.8,413 185.9,413 185.9,416.9 185.9,416.9 185.9,416.9 185.9,416.9 185.9,416.9 185.9,416.9 185.9,416.9 185.9,416.9 185.9,416.9 185.9,420.9 185.9,420.9 185.9,420.9 185.9,420.9 185.9,420.9 185.9,420.9 185.9,420.9 185.9,420.9 185.9,420.9 185.9,420.9 185.9,424.8 186,424.8 186,424.8 186,424.8 186,424.8 186,424.8 186,424.8 186,424.8 186,424.8 186,424.8 186.1,428.7 186.1,428.7 186.1,428.7 186.1,428.7 186.1,428.7 186.1,428.7 186.2,428.7 186.2,428.7 186.2,428.7 186.2,428.7 186.2,432.6 186.3,432.6 186.3,432.6 186.3,432.6 186.4,432.6 186.4,432.6 186.4,432.6 186.4,432.6 186.5,432.6 186.5,432.6 186.6,436.5 186.6,436.5 186.7,436.5 186.7,436.5 186.7,436.5 186.8,436.5 186.9,436.5 186.9,436.5 187,436.5 187,436.5 187.1,440.5 187.2,440.5 187.3,440.5 187.3,440.5 187.4,440.5 187.5,440.5 187.6,440.5 187.7,440.5 187.8,440.5 187.9,444.4 188.1,444.4 188.2,444.4 188.3,444.4 188.5,444.4 188.6,444.4 188.8,444.4 188.9,448.3 189.1,448.3 189.3,448.3 189.5,448.3 189.7,448.3 189.9,448.3 190.2,448.3 190.4,448.3 190.7,452.2 190.9,452.2 191.2,452.2 191.5,452.2 191.8,452.2 192.2,452.2 192.5,452.2 192.9,456.1 193.3,456.1 193.7,456.1 194.2,456.1 194.6,456.1 195.1,456.1 195.6,460.1 196.2,460.1 196.8,460.1 197.4,460.1 198,464 198.7,464 199.4,464 200.2,464 201,467.9 201.9,467.9 202.7,467.9 203.7,467.9 204.7,467.9 205.8,467.9 206.9,467.9 208,467.9 209.3,467.9 210.6,467.9 212,467.9 213.5,467.9 215,467.9 216.6,467.9 218.4,467.9 220.2,467.9 222.1,467.9 224.1,467.9 226.3,467.9 228.5,471.8 230.9,467.9 233.4,471.8 236.1,467.9 238.9,471.8 241.9,467.9 245,471.8 248.3,471.8 251.8,471.8 255.5,471.8 259.4,471.8 263.5,471.8 267.9,471.8 272.5,471.8 277.3,471.8 282.4,471.8 287.8,471.8 293.5,471.8 299.5,471.8 305.9,471.8 312.6,471.8 319.7,471.8 327.2,471.8 335.1,471.8 343.4,471.8 352.3,471.8 361.6,471.8 371.4,471.8 381.8,471.8 392.7,471.8 404.3,471.8 416.5,471.8 429.4,471.8 443,471.8 457.4,471.8 472.6,471.8 488.6,475.7 505.5,475.7 523.4,471.8 542.3,475.7 562.2,475.7 583.2,475.7 605.4,475.7 628.9,475.7 653.7,475.7 679.8,475.7 707.4,475.7 736.6,475.7 767.4,475.7 799.9,475.7 834.2,475.7 870.5,475.7 908.8,475.7 949.2,475.7 991.8,475.7 1036.9,475.7"/>
<path fill="#00f" d="M185.8 396.2l9.5 13.5h-19zM185.8 396.2l9.5 13.5h-19zM185.8 400.1l9.5 13.5h-19zM185.8 400.1l9.5 13.5h-19zM185.8 400.1l9.5 13.5h-19zM185.8 400.1l9.5 13.5h-19zM185.8 400.1l9.5 13.5h-19zM185.8 400.1l9.5 13.5h-19zM185.8 400.1l9.5 13.5h-19zM185.8 400.1l9.5 13.5h-19zM185.8 400.1l9.5 13.5h-19zM185.8 400.1l9.5 13.5h-19zM185.8 404l9.5 13.5h-19zM185.8 404l9.5 13.5h-19zM185.8 404l9.5 13.5h-19zM185.8 404l9.5 13.5h-19zM185.8 404l9.5 13.5h-19zM185.8 404l9.5 13.5h-19zM185.8 404l9.5 13.5h-19zM185.8 404l9.5 13.5h-19zM185.8 404l9.5 13.5h-19zM185.9 404l9.5 13.5h-19zM185.9 407.9l9.5 13.5h-19zM185.9 407.9l9.5 13.5h-19zM185.9 407.9l9.5 13.5h-19zM185.9 407.9l9.5 13.5h-19zM185.9 407.9l9.5 13.5h-19zM185.9 407.9l9.5 13.5h-19zM185.9 407.9l9.5 13.5h-19zM185.9 407.9l9.5 13.5h-19zM185.9 407.9l9.5 13.5h-19zM185.9 411.9l9.5 13.5h-19zM185.9 411.9l9.5 13.5h-19zM185.9 411.9l9.5 13.5h-19zM185.9 411.9l9.5 13.5h-19zM185.9 411.9l9.5 13.5h-19zM185.9 411.9l9.5 13.5h-19zM185.9 411.9l9.5 13.5h-19zM185.9 411.9l9.5 13.5h-19zM185.9 411.9l9.5 13.5h-19zM185.9 411.9l9.5 13.5h-19zM185.9 415.8l9.5 13.5h-19zM186 415.8l9.5 13.5h-19zM186 415.8l9.5 13.5h-19zM186 415.8l9.5 13.5h-19zM186 415.8l9.5 13.5h-19zM186 415.8l9.5 13.5h-19zM186 415.8l9.5 13.5h-19zM186 415.8l9.5 13.5h-19zM186 415.8l9.5 13.5h-19zM186 415.8l9.5 13.5h-19zM186.1 419.7l9.5 13.5h-19zM186.1 419.7l9.5 13.5h-19zM186.1 419.7l9.5 13.5h-19zM186.1 419.7l9.5 13.5h-19zM186.1 419.7l9.5 13.5h-19zM186.1 419.7l9.5 13.5h-19zM186.2 419.7l9.5 13.5h-19zM186.2 419.7l9.5 13.5h-19zM186.2 419.7l9.5 13.5h-19zM186.2 419.7l9.5 13.5h-19zM186.2 423.6l9.5 13.5h-19zM186.3 423.6l9.5 13.5h-19zM186.3 423.6l9.5 13.5h-19zM186.3 423.6l9.5 13.5h-19zM186.4 423.6l9.5 13.5h-19zM186.4 423.6l9.5 13.5h-19zM186.4 423.6l9.5 13.5h-19zM186.4 423.6l9.5 13.5h-19zM186.5 423.6l9.5 13.5h-19zM186.5 423.6l9.5 13.5h-19zM186.6 427.5l9.5 13.5h-19zM186.6 427.5l9.5 13.5h-19zM186.7 427.5l9.5 13.5h-19zM186.7 427.5l9.5 13.5h-19zM186.7 427.5l9.5 13.5h-19zM186.8 427.5l9.5 13.5h-19zM186.9 427.5l9.5 13.5h-19zM186.9 427.5l9.5 13.5h-19zM187 427.5l9.5 13.5h-19zM187 427.5l9.5 13.5h-19zM187.1 431.5l9.5 13.5h-19zM187.2 431.5l9.5 13.5h-19zM187.3 431.5l9.5 13.5h-19zM187.3 431.5l9.5 13.5h-19zM187.4 431.5l9.5 13.5h-19zM187.5 431.5l9.5 13.5h-19zM187.6 431.5l9.5 13.5h-19zM187.7 431.5l9.5 13.5h-19zM187.8 431.5l9.5 13.5h-19zM187.9 435.4l9.5 13.5h-19zM188.1 435.4l9.5 13.5h-19zM188.2 435.4l9.5 13.5h-19zM188.3 435.4l9.5 13.5h-19zM188.5 435.4l9.5 13.5h-19zM188.6 435.4l9.5 13.5h-19zM188.8 435.4l9.5 13.5h-19zM188.9 439.3l9.5 13.5h-19zM189.1 439.3l9.5 13.5h-19zM189.3 439.3l9.5 13.5h-19zM189.5 439.3l9.5 13.5h-19zM189.7 439.3l9.5 13.5h-19zM189.9 439.3l9.5 13.5h-19zM190.2 439.3l9.5 13.5h-19zM190.4 439.3l9.5 13.5h-19zM190.7 443.2l9.5 13.5h-19zM190.9 443.2l9.5 13.5h-19zM191.2 443.2l9.5 13.5h-19zM191.5 443.2l9.5 13.5h-19zM191.8 443.2l9.5 13.5h-19zM192.2 443.2l9.5 13.5h-19zM192.5 443.2l9.5 13.5h-19zM192.9 447.1l9.5 13.5h-19zM193.3 447.1l9.5 13.5h-19zM193.7 447.1l9.5 13.5h-19zM194.2 447.1l9.5 13.5h-19zM194.6 447.1l9.5 13.5h-19zM195.1 447.1l9.5 13.5h-19zM195.6 451.1l9.5 13.5h-19zM196.2 451.1l9.5 13.5h-19zM196.8 451.1l9.5 13.5h-19zM197.4 451.1l9.5 13.5h-19zM198 455l9.5 13.5h-19zM198.7 455l9.5 13.5h-19zM199.4 455l9.5 13.5h-19zM200.2 455l9.5 13.5h-19zM201 458.9l9.5 13.5h-19zM201.9 458.9l9.5 13.5h-19zM202.7 458.9l9.5 13.5h-19zM203.7 458.9l9.5 13.5h-19zM204.7 458.9l9.5 13.5h-19zM205.8 458.9l9.5 13.5h-19zM206.9 458.9l9.5 13.5h-19zM208 458.9l9.5 13.5h-19zM209.3 458.9l9.5 13.5h-19zM210.6 458.9l9.5 13.5h-19zM212 458.9l9.5 13.5h-19zM213.5 458.9l9.5 13.5h-19zM215 458.9l9.5 13.5h-19zM216.6 458.9l9.5 13.5h-19zM218.4 458.9l9.5 13.5h-19zM220.2 458.9l9.5 13.5h-19zM222.1 458.9l9.5 13.5h-19zM224.1 458.9l9.5 13.5h-19zM226.3 458.9l9.5 13.5h-19zM228.5 462.8l9.5 13.5h-19zM230.9 458.9l9.5 13.5h-19zM233.4 462.8l9.5 13.5h-19zM236.1 458.9l9.5 13.5h-19zM238.9 462.8l9.5 13.5h-19zM241.9 458.9l9.5 13.5h-19zM245 462.8l9.5 13.5h-19zM248.3 462.8l9.5 13.5h-19zM251.8 462.8l9.5 13.5h-19zM255.5 462.8l9.5 13.5h-19zM259.4 462.8l9.5 13.5h-19zM263.5 462.8l9.5 13.5h-19zM267.9 462.8l9.5 13.5h-19zM272.5 462.8l9.5 13.5h-19zM277.3 462.8l9.5 13.5h-19zM282.4 462.8l9.5 13.5h-19zM287.8 462.8l9.5 13.5h-19zM293.5 462.8l9.5 13.5h-19zM299.5 462.8l9.5 13.5h-19zM305.9 462.8l9.5 13.5h-19zM312.6 462.8l9.5 13.5h-19zM319.7 462.8l9.5 13.5h-19zM327.2 462.8l9.5 13.5h-19zM335.1 462.8l9.5 13.5h-19zM343.4 462.8l9.5 13.5h-19zM352.3 462.8l9.5 13.5h-19zM361.6 462.8l9.5 13.5h-19zM371.4 462.8l9.5 13.5h-19zM381.8 462.8l9.5 13.5h-19zM392.7 462.8l9.5 13.5h-19zM404.3 462.8l9.5 13.5h-19zM416.5 462.8l9.5 13.5h-19zM429.4 462.8l9.5 13.5h-19zM443 462.8l9.5 13.5h-19zM457.4 462.8l9.5 13.5h-19zM472.6 462.8l9.5 13.5h-19zM488.6 466.7l9.5 13.5h-19zM505.5 466.7l9.5 13.5h-19zM523.4 462.8l9.5 13.5h-19zM542.3 466.7l9.5 13.5h-19zM562.2 466.7l9.5 13.5h-19zM583.2 466.7l9.5 13.5h-19zM605.4 466.7l9.5 13.5h-19zM628.9 466.7l9.5 13.5h-19zM653.7 466.7l9.5 13.5h-19zM679.8 466.7l9.5 13.5h-19zM707.4 466.7l9.5 13.5h-19zM736.6 466.7l9.5 13.5h-19zM767.4 466.7l9.5 13.5h-19zM799.9 466.7l9.5 13.5h-19zM834.2 466.7l9.5 13.5h-19zM870.5 466.7l9.5 13.5h-19zM908.8 466.7l9.5 13.5h-19zM949.2 466.7l9.5 13.5h-19zM991.8 466.7l9.5 13.5h-19zM1036.9 466.7l9.5 13.5h-19z"/>
<polyline fill="none" stroke="#f0f" stroke-width="1.2" stroke-opacity="0.6" points="185.8,-120.7 185.8,106.7 185.8,109.4 185.8,122.3 185.8,122.3 185.8,122.3 185.8,126.3 185.8,126.3 185.8,126.3 185.8,126.3 185.8,126.3 185.8,126.3 185.8,130.2 185.8,130.2 185.8,130.2 185.8,130.2 185.8,130.2 185.8,130.2 185.8,134.1 185.8,134.1 185.8,134.1 185.9,134.1 185.9,134.1 185.9,134.1 185.9,138 185.9,138 185.9,138 185.9,138 185.9,138 185.9,138 185.9,138 185.9,141.9 185.9,141.9 185.9,141.9 185.9,141.9 185.9,141.9 185.9,141.9 185.9,145.9 185.9,145.9 185.9,145.9 185.9,145.9 185.9,145.9 186,145.9 186,149.8 186,149.8 186,149.8 186,149.8 186,149.8 186,149.8 186,153.7 186,153.7 186.1,153.7 186.1,153.7 186.1,153.7 186.1,153.7 186.1,153.7 186.1,157.6 186.2,157.6 186.2,157.6 186.2,157.6 186.2,157.6 186.2,157.6 186.3,161.5 186.3,161.5 186.3,161.5 186.4,161.5 186.4,161.5 186.4,161.5 186.4,165.5 186.5,165.5 186.5,165.5 186.6,165.5 186.6,165.5 186.7,165.5 186.7,169.4 186.7,169.4 186.8,169.4 186.9,169.4 186.9,169.4 187,169.4 187,169.4 187.1,173.3 187.2,173.3 187.3,173.3 187.3,173.3 187.4,173.3 187.5,173.3 187.6,177.2 187.7,177.2 187.8,177.2 187.9,177.2 188.1,177.2 188.2,177.2 188.3,181.1 188.5,181.1 188.6,181.1 188.8,181.1 188.9,181.1 189.1,181.1 189.3,185.1 189.5,185.1 189.7,185.1 189.9,185.1 190.2,185.1 190.4,185.1 190.7,185.1 190.9,189 191.2,189 191.5,189 191.8,192.9 192.2,192.9 192.5,192.9 192.9,196.8 193.3,196.8 193.7,177.2 194.2,204.7 194.6,200.7 195.1,200.7 195.6,200.7 196.2,200.7 196.8,200.7 197.4,200.7 198,200.7 198.7,200.7 199.4,200.7 200.2,200.7 201,204.7 201.9,204.7 202.7,204.7 203.7,204.7 204.7,204.7 205.8,204.7 206.9,204.7 208,204.7 209.3,204.7 210.6,204.7 212,204.7 213.5,204.7 215,204.7 216.6,204.7 218.4,204.7 220.2,204.7 222.1,204.7 224.1,204.7 226.3,204.7 228.5,208.6 230.9,208.6 233.4,208.6 236.1,208.6 238.9,208.6 241.9,208.6 245,208.6 248.3,208.6 251.8,208.6 255.5,208.6 259.4,208.6 263.5,208.6 267.9,208.6 272.5,208.6 277.3,208.6 282.4,208.6 287.8,208.6 293.5,208.6 299.5,208.6 305.9,208.6 312.6,208.6 319.7,212.5 327.2,212.5 335.1,212.5 343.4,212.5 352.3,212.5 361.6,212.5 371.4,212.5 381.8,208.6 392.7,212.5 404.3,212.5 416.5,212.5 429.4,212.5 443,212.5 457.4,212.5 472.6,212.5 488.6,212.5 505.5,212.5 523.4,212.5 542.3,212.5 562.2,212.5 583.2,212.5 605.4,212.5 628.9,212.5 653.7,212.5 679.8,212.5 707.4,212.5 736.6,212.5 767.4,212.5 799.9,216.4 834.2,216.4 870.5,216.4 908.8,216.4 949.2,216.4 991.8,212.5 1036.9,216.4"/>
<path fill="#f0f" d="M185.8 -111.9l9.4 -13.2h-18.8zM185.8 115.5l9.4 -13.2h-18.8zM185.8 118.2l9.4 -13.2h-18.8zM185.8 131.1l9.4 -13.2h-18.8zM185.8 131.1l9.4 -13.2h-18.8zM185.8 131.1l9.4 -13.2h-18.8zM185.8 135.1l9.4 -13.2h-18.8zM185.8 135.1l9.4 -13.2h-18.8zM185.8 135.1l9.4 -13.2h-18.8zM185.8 135.1l9.4 -13.2h-18.8zM185.8 135.1l9.4 -13.2h-18.8zM185.8 135.1l9.4 -13.2h-18.8zM185.8 139l9.4 -13.2h-18.8zM185.8 139l9.4 -13.2h-18.8zM185.8 139l9.4 -13.2h-18.8zM185.8 139l9.4 -13.2h-18.8zM185.8 139l9.4 -13.2h-18.8zM185.8 139l9.4 -13.2h-18.8zM185.8 142.9l9.4 -13.2h-18.8zM185.8 142.9l9.4 -13.2h-18.8zM185.8 142.9l9.4 -13.2h-18.8zM185.9 142.9l9.4 -13.2h-18.8zM185.9 142.9l9.4 -13.2h-18.8zM185.9 142.9l9.4 -13.2h-18.8zM185.9 146.8l9.4 -13.2h-18.8zM185.9 146.8l9.4 -13.2h-18.8zM185.9 146.8l9.4 -13.2h-18.8zM185.9 146.8l9.4 -13.2h-18.8zM185.9 146.8l9.4 -13.2h-18.8zM185.9 146.8l9.4 -13.2h-18.8zM185.9 146.8l9.4 -13.2h-18.8zM185.9 150.7l9.4 -13.2h-18.8zM185.9 150.7l9.4 -13.2h-18.8zM185.9 150.7l9.4 -13.2h-18.8zM185.9 150.7l9.4 -13.2h-18.8zM185.9 150.7l9.4 -13.2h-18.8zM185.9 150.7l9.4 -13.2h-18.8zM185.9 154.7l9.4 -13.2h-18.8zM185.9 154.7l9.4 -13.2h-18.8zM185.9 154.7l9.4 -13.2h-18.8zM185.9 154.7l9.4 -13.2h-18.8zM185.9 154.7l9.4 -13.2h-18.8zM186 154.7l9.4 -13.2h-18.8zM186 158.6l9.4 -13.2h-18.8zM186 158.6l9.4 -13.2h-18.8zM186 158.6l9.4 -13.2h-18.8zM186 158.6l9.4 -13.2h-18.8zM186 158.6l9.4 -13.2h-18.8zM186 158.6l9.4 -13.2h-18.8zM186 162.5l9.4 -13.2h-18.8zM186 162.5l9.4 -13.2h-18.8zM186.1 162.5l9.4 -13.2h-18.8zM186.1 162.5l9.4 -13.2h-18.8zM186.1 162.5l9.4 -13.2h-18.8zM186.1 162.5l9.4 -13.2h-18.8zM186.1 162.5l9.4 -13.2h-18.8zM186.1 166.4l9.4 -13.2h-18.8zM186.2 166.4l9.4 -13.2h-18.8zM186.2 166.4l9.4 -13.2h-18.8zM186.2 166.4l9.4 -13.2h-18.8zM186.2 166.4l9.4 -13.2h-18.8zM186.2 166.4l9.4 -13.2h-18.8zM186.3 170.3l9.4 -13.2h-18.8zM186.3 170.3l9.4 -13.2h-18.8zM186.3 170.3l9.4 -13.2h-18.8zM186.4 170.3l9.4 -13.2h-18.8zM186.4 170.3l9.4 -13.2h-18.8zM186.4 170.3l9.4 -13.2h-18.8zM186.4 174.3l9.4 -13.2h-18.8zM186.5 174.3l9.4 -13.2h-18.8zM186.5 174.3l9.4 -13.2h-18.8zM186.6 174.3l9.4 -13.2h-18.8zM186.6 174.3l9.4 -13.2h-18.8zM186.7 174.3l9.4 -13.2h-18.8zM186.7 178.2l9.4 -13.2h-18.8zM186.7 178.2l9.4 -13.2h-18.8zM186.8 178.2l9.4 -13.2h-18.8zM186.9 178.2l9.4 -13.2h-18.8zM186.9 178.2l9.4 -13.2h-18.8zM187 178.2l9.4 -13.2h-18.8zM187 178.2l9.4 -13.2h-18.8zM187.1 182.1l9.4 -13.2h-18.8zM187.2 182.1l9.4 -13.2h-18.8zM187.3 182.1l9.4 -13.2h-18.8zM187.3 182.1l9.4 -13.2h-18.8zM187.4 182.1l9.4 -13.2h-18.8zM187.5 182.1l9.4 -13.2h-18.8zM187.6 186l9.4 -13.2h-18.8zM187.7 186l9.4 -13.2h-18.8zM187.8 186l9.4 -13.2h-18.8zM187.9 186l9.4 -13.2h-18.8zM188.1 186l9.4 -13.2h-18.8zM188.2 186l9.4 -13.2h-18.8zM188.3 189.9l9.4 -13.2h-18.8zM188.5 189.9l9.4 -13.2h-18.8zM188.6 189.9l9.4 -13.2h-18.8zM188.8 189.9l9.4 -13.2h-18.8zM188.9 189.9l9.4 -13.2h-18.8zM189.1 189.9l9.4 -13.2h-18.8zM189.3 193.9l9.4 -13.2h-18.8zM189.5 193.9l9.4 -13.2h-18.8zM189.7 193.9l9.4 -13.2h-18.8zM189.9 193.9l9.4 -13.2h-18.8zM190.2 193.9l9.4 -13.2h-18.8zM190.4 193.9l9.4 -13.2h-18.8zM190.7 193.9l9.4 -13.2h-18.8zM190.9 197.8l9.4 -13.2h-18.8zM191.2 197.8l9.4 -13.2h-18.8zM191.5 197.8l9.4 -13.2h-18.8zM191.8 201.7l9.4 -13.2h-18.8zM192.2 201.7l9.4 -13.2h-18.8zM192.5 201.7l9.4 -13.2h-18.8zM192.9 205.6l9.4 -13.2h-18.8zM193.3 205.6l9.4 -13.2h-18.8zM193.7 186l9.4 -13.2h-18.8zM194.2 213.5l9.4 -13.2h-18.8zM194.6 209.5l9.4 -13.2h-18.8zM195.1 209.5l9.4 -13.2h-18.8zM195.6 209.5l9.4 -13.2h-18.8zM196.2 209.5l9.4 -13.2h-18.8zM196.8 209.5l9.4 -13.2h-18.8zM197.4 209.5l9.4 -13.2h-18.8zM198 209.5l9.4 -13.2h-18.8zM198.7 209.5l9.4 -13.2h-18.8zM199.4 209.5l9.4 -13.2h-18.8zM200.2 209.5l9.4 -13.2h-18.8zM201 213.5l9.4 -13.2h-18.8zM201.9 213.5l9.4 -13.2h-18.8zM202.7 213.5l9.4 -13.2h-18.8zM203.7 213.5l9.4 -13.2h-18.8zM204.7 213.5l9.4 -13.2h-18.8zM205.8 213.5l9.4 -13.2h-18.8zM206.9 213.5l9.4 -13.2h-18.8zM208 213.5l9.4 -13.2h-18.8zM209.3 213.5l9.4 -13.2h-18.8zM210.6 213.5l9.4 -13.2h-18.8zM212 213.5l9.4 -13.2h-18.8zM213.5 213.5l9.4 -13.2h-18.8zM215 213.5l9.4 -13.2h-18.8zM216.6 213.5l9.4 -13.2h-18.8zM218.4 213.5l9.4 -13.2h-18.8zM220.2 213.5l9.4 -13.2h-18.8zM222.1 213.5l9.4 -13.2h-18.8zM224.1 213.5l9.4 -13.2h-18.8zM226.3 213.5l9.4 -13.2h-18.8zM228.5 217.4l9.4 -13.2h-18.8zM230.9 217.4l9.4 -13.2h-18.8zM233.4 217.4l9.4 -13.2h-18.8zM236.1 217.4l9.4 -13.2h-18.8zM238.9 217.4l9.4 -13.2h-18.8zM241.9 217.4l9.4 -13.2h-18.8zM245 217.4l9.4 -13.2h-18.8zM248.3 217.4l9.4 -13.2h-18.8zM251.8 217.4l9.4 -13.2h-18.8zM255.5 217.4l9.4 -13.2h-18.8zM259.4 217.4l9.4 -13.2h-18.8zM263.5 217.4l9.4 -13.2h-18.8zM267.9 217.4l9.4 -13.2h-18.8zM272.5 217.4l9.4 -13.2h-18.8zM277.3 217.4l9.4 -13.2h-18.8zM282.4 217.4l9.4 -13.2h-18.8zM287.8 217.4l9.4 -13.2h-18.8zM293.5 217.4l9.4 -13.2h-18.8zM299.5 217.4l9.4 -13.2h-18.8zM305.9 217.4l9.4 -13.2h-18.8zM312.6 217.4l9.4 -13.2h-18.8zM319.7 221.3l9.4 -13.2h-18.8zM327.2 221.3l9.4 -13.2h-18.8zM335.1 221.3l9.4 -13.2h-18.8zM343.4 221.3l9.4 -13.2h-18.8zM352.3 221.3l9.4 -13.2h-18.8zM361.6 221.3l9.4 -13.2h-18.8zM371.4 221.3l9.4 -13.2h-18.8zM381.8 217.4l9.4 -13.2h-18.8zM392.7 221.3l9.4 -13.2h-18.8zM404.3 221.3l9.4 -13.2h-18.8zM416.5 221.3l9.4 -13.2h-18.8zM429.4 221.3l9.4 -13.2h-18.8zM443 221.3l9.4 -13.2h-18.8zM457.4 221.3l9.4 -13.2h-18.8zM472.6 221.3l9.4 -13.2h-18.8zM488.6 221.3l9.4 -13.2h-18.8zM505.5 221.3l9.4 -13.2h-18.8zM523.4 221.3l9.4 -13.2h-18.8zM542.3 221.3l9.4 -13.2h-18.8zM562.2 221.3l9.4 -13.2h-18.8zM583.2 221.3l9.4 -13.2h-18.8zM605.4 221.3l9.4 -13.2h-18.8zM628.9 221.3l9.4 -13.2h-18.8zM653.7 221.3l9.4 -13.2h-18.8zM679.8 221.3l9.4 -13.2h-18.8zM707.4 221.3l9.4 -13.2h-18.8zM736.6 221.3l9.4 -13.2h-18.8zM767.4 221.3l9.4 -13.2h-18.8zM799.9 225.2l9.4 -13.2h-18.8zM834.2 225.2l9.4 -13.2h-18.8zM870.5 225.2l9.4 -13.2h-18.8zM908.8 225.2l9.4 -13.2h-18.8zM949.2 225.2l9.4 -13.2h-18.8zM991.8 221.3l9.4 -13.2h-18.8zM1036.9 225.2l9.4 -13.2h-18.8z"/>
<path d="M185.8 34V104" stroke="#f0f" stroke-width="2"/>
</g>
<text x="143.6" y="123" font-size="27" text-anchor="end" textLength="60.5" lengthAdjust="spacingAndGlyphs">3.00</text>
<text x="143.6" y="221" font-size="27" text-anchor="end" textLength="60.5" lengthAdjust="spacingAndGlyphs">2.75</text>
<text x="143.6" y="319" font-size="27" text-anchor="end" textLength="60.5" lengthAdjust="spacingAndGlyphs">2.50</text>
<text x="143.6" y="417" font-size="27" text-anchor="end" textLength="60.5" lengthAdjust="spacingAndGlyphs">2.25</text>
<text x="143.6" y="515" font-size="27" text-anchor="end" textLength="60.5" lengthAdjust="spacingAndGlyphs">2.00</text>
<text x="143.6" y="613" font-size="27" text-anchor="end" textLength="60.5" lengthAdjust="spacingAndGlyphs">1.75</text>
<text x="319.2" y="665.1" font-size="27" textLength="63" lengthAdjust="spacingAndGlyphs">1x10</text>
<text x="382.9" y="649.6" font-size="16" textLength="9" lengthAdjust="spacingAndGlyphs">6</text>
<text x="489.5" y="665.1" font-size="27" textLength="63" lengthAdjust="spacingAndGlyphs">2x10</text>
<text x="553.2" y="649.6" font-size="16" textLength="9" lengthAdjust="spacingAndGlyphs">6</text>
<text x="659.9" y="665.1" font-size="27" textLength="63" lengthAdjust="spacingAndGlyphs">3x10</text>
<text x="723.6" y="649.6" font-size="16" textLength="9" lengthAdjust="spacingAndGlyphs">6</text>
<text x="830.2" y="665.1" font-size="27" textLength="63" lengthAdjust="spacingAndGlyphs">4x10</text>
<text x="893.9" y="649.6" font-size="16" textLength="9" lengthAdjust="spacingAndGlyphs">6</text>
<text x="1000.6" y="665.1" font-size="27" textLength="63" lengthAdjust="spacingAndGlyphs">5x10</text>
<text x="1064.3" y="649.6" font-size="16" textLength="9" lengthAdjust="spacingAndGlyphs">6</text>
<text x="486.5" y="718.6" font-size="30" textLength="249" lengthAdjust="spacingAndGlyphs">Frequency (Hz)</text>
<text transform="translate(54.5,468.6) rotate(-90) scale(1,1.36)" font-size="30" textLength="256.5" lengthAdjust="spacingAndGlyphs">Dielectric Constant</text>
<text x="197" y="69.4" font-size="32" textLength="19" lengthAdjust="spacingAndGlyphs">a</text>
<rect x="787" y="35" width="291.3" height="162.7" fill="#fff" stroke="#333" stroke-width="1.1"/>
<path d="M816.8 68H888.2" stroke="#000" stroke-width="1.3" stroke-opacity="0.5"/>
<rect x="845.5" y="62" width="14.4" height="12" fill="#000"/>
<text x="898.5" y="77.2" font-size="28" textLength="113" lengthAdjust="spacingAndGlyphs">nSiR A</text>
<path d="M816.8 106.2H888.2" stroke="#f00" stroke-width="1.2" stroke-opacity="0.75"/>
<ellipse cx="852.7" cy="106.2" rx="7.7" ry="6.5" fill="#f00"/>
<text x="898.5" y="115.4" font-size="28" textLength="155.7" lengthAdjust="spacingAndGlyphs">SNC 15 A</text>
<path d="M816.8 144.3H888.2" stroke="#00f" stroke-width="1.2" stroke-opacity="0.55"/>
<path fill="#00f" d="M852.7 135.3l9.5 13.5h-19z"/>
<text x="898.5" y="153.5" font-size="28" textLength="164.7" lengthAdjust="spacingAndGlyphs">SNC 2.5 A</text>
<path d="M816.8 182.4H888.2" stroke="#f0f" stroke-width="1.2" stroke-opacity="0.7"/>
<path fill="#f0f" d="M852.7 191.1l9.8 -13h-19.5z"/>
<text x="898.5" y="191.6" font-size="28" textLength="137" lengthAdjust="spacingAndGlyphs">SNC 5 A</text>
</g>
<text x="585.8" y="765.6" font-family="'Liberation Serif', serif" font-size="26.5" text-anchor="middle" fill="#000">(<tspan font-weight="bold">a</tspan>)</text>
<g id="chartB" font-family="'Liberation Serif', serif" font-weight="bold" fill="#000">
<g stroke="#000" stroke-linecap="round" fill="none">
<path stroke-width="6.4" d="M257.7 867.1V1454.4"/>
<path stroke-width="6.6" d="M248 1435.2H955"/>
<path stroke-width="6.4" d="M237.6 867.1H257M237.6 942.8H257M237.6 1018.5H257M237.6 1094.2H257M237.6 1169.9H257M237.6 1245.6H257M237.6 1321.3H257M237.6 1397H257"/>
<path stroke-width="6.4" d="M247.5 905H257M247.5 980.7H257M247.5 1056.4H257M247.5 1132.1H257M247.5 1207.8H257M247.5 1283.5H257M247.5 1359.2H257"/>
<path stroke-width="7" d="M397.4 1437V1454.4M536.8 1437V1454.4M676.2 1437V1454.4M815.6 1437V1454.4M955 1437V1454.4"/>
<path stroke-width="6.4" d="M327.7 1437V1445.2M467.1 1437V1445.2M606.5 1437V1445.2M745.9 1437V1445.2M885.3 1437V1445.2"/>
</g>
<g clip-path="url(#cb)">
<polyline fill="none" stroke="#000" stroke-width="0.9" stroke-opacity="0.9" points="258,1283.5 258,1283.5 258,1283.5 258,1287.2 258,1287.2 258,1287.2 258,1287.2 258,1291 258,1291 258,1291 258,1294.8 258,1294.8 258,1294.8 258,1298.6 258,1298.6 258,1298.6 258,1298.6 258,1302.4 258,1302.4 258,1302.4 258,1306.2 258,1306.2 258,1306.2 258,1309.9 258,1309.9 258.1,1309.9 258.1,1309.9 258.1,1313.7 258.1,1313.7 258.1,1313.7 258.1,1317.5 258.1,1317.5 258.1,1317.5 258.1,1321.3 258.1,1321.3 258.1,1321.3 258.1,1321.3 258.1,1325.1 258.1,1325.1 258.1,1325.1 258.1,1328.9 258.1,1328.9 258.1,1328.9 258.1,1328.9 258.1,1332.7 258.2,1332.7 258.2,1332.7 258.2,1336.4 258.2,1336.4 258.2,1336.4 258.2,1340.2 258.2,1340.2 258.2,1340.2 258.2,1340.2 258.2,1344 258.3,1344 258.3,1344 258.3,1347.8 258.3,1347.8 258.3,1347.8 258.3,1351.6 258.4,1351.6 258.4,1351.6 258.4,1351.6 258.4,1355.4 258.5,1355.4 258.5,1355.4 258.5,1359.2 258.5,1359.2 258.6,1359.2 258.6,1362.9 258.6,1362.9 258.7,1362.9 258.7,1362.9 258.7,1366.7 258.8,1366.7 258.8,1366.7 258.9,1370.5 258.9,1370.5 259,1370.5 259,1374.3 259.1,1374.3 259.1,1378.1 259.2,1378.1 259.3,1378.1 259.3,1378.1 259.4,1378.1 259.5,1378.1 259.6,1378.1 259.7,1378.1 259.8,1378.1 259.9,1378.1 260,1378.1 260.1,1378.1 260.2,1378.1 260.3,1378.1 260.4,1378.1 260.6,1378.1 260.7,1378.1 260.9,1381.9 261,1381.9 261.2,1381.9 261.4,1381.9 261.6,1381.9 261.8,1381.9 262,1381.9 262.2,1381.9 262.4,1381.9 262.7,1381.9 262.9,1381.9 263.2,1381.9 263.5,1381.9 263.8,1381.9 264.1,1385.6 264.5,1385.6 264.8,1385.6 265.2,1385.6 265.6,1385.6 266.1,1385.6 266.5,1385.6 267,1385.6 267.5,1385.6 268,1385.6 268.6,1385.6 269.2,1385.6 269.8,1385.6 270.4,1385.6 271.1,1385.6 271.9,1385.6 272.7,1385.6 273.5,1385.6 274.3,1385.6 275.3,1385.6 276.2,1385.6 277.2,1385.6 278.3,1385.6 279.4,1385.6 280.6,1385.6 281.9,1385.6 283.2,1385.6 284.7,1385.6 286.2,1385.6 287.7,1385.6 289.4,1385.6 291.1,1385.6 293,1385.6 294.9,1385.6 297,1385.6 299.2,1385.6 301.5,1389.4 303.9,1389.4 306.5,1389.4 309.2,1389.4 312.1,1389.4 315.1,1389.4 318.3,1389.4 321.7,1389.4 325.2,1389.4 329,1389.4 332.9,1389.4 337.1,1389.4 341.5,1389.4 346.2,1389.4 351.2,1389.4 356.4,1389.4 361.9,1389.4 367.7,1389.4 373.8,1389.4 380.3,1389.4 387.1,1389.4 394.3,1389.4 401.9,1389.4 410,1389.4 418.5,1389.4 427.4,1389.4 436.9,1389.4 446.9,1389.4 457.5,1389.4 468.6,1389.4 480.4,1389.4 492.8,1389.4 506,1389.4 519.8,1389.4 534.5,1389.4 549.9,1389.4 566.2,1389.4 583.5,1389.4 601.7,1389.4 620.9,1389.4 641.2,1389.4 662.6,1389.4 685.2,1389.4 709.1,1389.4 734.3,1389.4 760.9,1389.4 789,1389.4 818.7,1389.4 850.1,1389.4 883.2,1393.2 918.1,1389.4 955,1393.2"/>
<path fill="#000" d="M252.4 1278h11.3v11h-11.3zM252.4 1278h11.3v11h-11.3zM252.4 1278h11.3v11h-11.3zM252.4 1281.7h11.3v11h-11.3zM252.4 1281.7h11.3v11h-11.3zM252.4 1281.7h11.3v11h-11.3zM252.4 1281.7h11.3v11h-11.3zM252.4 1285.5h11.3v11h-11.3zM252.4 1285.5h11.3v11h-11.3zM252.4 1285.5h11.3v11h-11.3zM252.4 1289.3h11.3v11h-11.3zM252.4 1289.3h11.3v11h-11.3zM252.4 1289.3h11.3v11h-11.3zM252.4 1293.1h11.3v11h-11.3zM252.4 1293.1h11.3v11h-11.3zM252.4 1293.1h11.3v11h-11.3zM252.4 1293.1h11.3v11h-11.3zM252.4 1296.9h11.3v11h-11.3zM252.4 1296.9h11.3v11h-11.3zM252.4 1296.9h11.3v11h-11.3zM252.4 1300.7h11.3v11h-11.3zM252.4 1300.7h11.3v11h-11.3zM252.4 1300.7h11.3v11h-11.3zM252.4 1304.4h11.3v11h-11.3zM252.4 1304.4h11.3v11h-11.3zM252.4 1304.4h11.3v11h-11.3zM252.4 1304.4h11.3v11h-11.3zM252.4 1308.2h11.3v11h-11.3zM252.4 1308.2h11.3v11h-11.3zM252.4 1308.2h11.3v11h-11.3zM252.4 1312h11.3v11h-11.3zM252.4 1312h11.3v11h-11.3zM252.4 1312h11.3v11h-11.3zM252.4 1315.8h11.3v11h-11.3zM252.4 1315.8h11.3v11h-11.3zM252.4 1315.8h11.3v11h-11.3zM252.4 1315.8h11.3v11h-11.3zM252.4 1319.6h11.3v11h-11.3zM252.5 1319.6h11.3v11h-11.3zM252.5 1319.6h11.3v11h-11.3zM252.5 1323.4h11.3v11h-11.3zM252.5 1323.4h11.3v11h-11.3zM252.5 1323.4h11.3v11h-11.3zM252.5 1323.4h11.3v11h-11.3zM252.5 1327.2h11.3v11h-11.3zM252.5 1327.2h11.3v11h-11.3zM252.5 1327.2h11.3v11h-11.3zM252.5 1330.9h11.3v11h-11.3zM252.5 1330.9h11.3v11h-11.3zM252.5 1330.9h11.3v11h-11.3zM252.5 1334.7h11.3v11h-11.3zM252.6 1334.7h11.3v11h-11.3zM252.6 1334.7h11.3v11h-11.3zM252.6 1334.7h11.3v11h-11.3zM252.6 1338.5h11.3v11h-11.3zM252.6 1338.5h11.3v11h-11.3zM252.6 1338.5h11.3v11h-11.3zM252.6 1342.3h11.3v11h-11.3zM252.7 1342.3h11.3v11h-11.3zM252.7 1342.3h11.3v11h-11.3zM252.7 1346.1h11.3v11h-11.3zM252.7 1346.1h11.3v11h-11.3zM252.7 1346.1h11.3v11h-11.3zM252.8 1346.1h11.3v11h-11.3zM252.8 1349.9h11.3v11h-11.3zM252.8 1349.9h11.3v11h-11.3zM252.8 1349.9h11.3v11h-11.3zM252.9 1353.7h11.3v11h-11.3zM252.9 1353.7h11.3v11h-11.3zM252.9 1353.7h11.3v11h-11.3zM252.9 1357.4h11.3v11h-11.3zM253 1357.4h11.3v11h-11.3zM253 1357.4h11.3v11h-11.3zM253 1357.4h11.3v11h-11.3zM253.1 1361.2h11.3v11h-11.3zM253.1 1361.2h11.3v11h-11.3zM253.2 1361.2h11.3v11h-11.3zM253.2 1365h11.3v11h-11.3zM253.3 1365h11.3v11h-11.3zM253.3 1365h11.3v11h-11.3zM253.4 1368.8h11.3v11h-11.3zM253.4 1368.8h11.3v11h-11.3zM253.5 1372.6h11.3v11h-11.3zM253.6 1372.6h11.3v11h-11.3zM253.6 1372.6h11.3v11h-11.3zM253.7 1372.6h11.3v11h-11.3zM253.8 1372.6h11.3v11h-11.3zM253.8 1372.6h11.3v11h-11.3zM253.9 1372.6h11.3v11h-11.3zM254 1372.6h11.3v11h-11.3zM254.1 1372.6h11.3v11h-11.3zM254.2 1372.6h11.3v11h-11.3zM254.3 1372.6h11.3v11h-11.3zM254.4 1372.6h11.3v11h-11.3zM254.5 1372.6h11.3v11h-11.3zM254.7 1372.6h11.3v11h-11.3zM254.8 1372.6h11.3v11h-11.3zM254.9 1372.6h11.3v11h-11.3zM255.1 1372.6h11.3v11h-11.3zM255.2 1376.4h11.3v11h-11.3zM255.4 1376.4h11.3v11h-11.3zM255.5 1376.4h11.3v11h-11.3zM255.7 1376.4h11.3v11h-11.3zM255.9 1376.4h11.3v11h-11.3zM256.1 1376.4h11.3v11h-11.3zM256.3 1376.4h11.3v11h-11.3zM256.5 1376.4h11.3v11h-11.3zM256.8 1376.4h11.3v11h-11.3zM257 1376.4h11.3v11h-11.3zM257.3 1376.4h11.3v11h-11.3zM257.6 1376.4h11.3v11h-11.3zM257.9 1376.4h11.3v11h-11.3zM258.2 1376.4h11.3v11h-11.3zM258.5 1380.1h11.3v11h-11.3zM258.8 1380.1h11.3v11h-11.3zM259.2 1380.1h11.3v11h-11.3zM259.6 1380.1h11.3v11h-11.3zM260 1380.1h11.3v11h-11.3zM260.4 1380.1h11.3v11h-11.3zM260.9 1380.1h11.3v11h-11.3zM261.3 1380.1h11.3v11h-11.3zM261.8 1380.1h11.3v11h-11.3zM262.4 1380.1h11.3v11h-11.3zM262.9 1380.1h11.3v11h-11.3zM263.5 1380.1h11.3v11h-11.3zM264.1 1380.1h11.3v11h-11.3zM264.8 1380.1h11.3v11h-11.3zM265.5 1380.1h11.3v11h-11.3zM266.2 1380.1h11.3v11h-11.3zM267 1380.1h11.3v11h-11.3zM267.8 1380.1h11.3v11h-11.3zM268.7 1380.1h11.3v11h-11.3zM269.6 1380.1h11.3v11h-11.3zM270.6 1380.1h11.3v11h-11.3zM271.6 1380.1h11.3v11h-11.3zM272.7 1380.1h11.3v11h-11.3zM273.8 1380.1h11.3v11h-11.3zM275 1380.1h11.3v11h-11.3zM276.3 1380.1h11.3v11h-11.3zM277.6 1380.1h11.3v11h-11.3zM279 1380.1h11.3v11h-11.3zM280.5 1380.1h11.3v11h-11.3zM282.1 1380.1h11.3v11h-11.3zM283.7 1380.1h11.3v11h-11.3zM285.5 1380.1h11.3v11h-11.3zM287.3 1380.1h11.3v11h-11.3zM289.3 1380.1h11.3v11h-11.3zM291.4 1380.1h11.3v11h-11.3zM293.5 1380.1h11.3v11h-11.3zM295.8 1383.9h11.3v11h-11.3zM298.3 1383.9h11.3v11h-11.3zM300.8 1383.9h11.3v11h-11.3zM303.6 1383.9h11.3v11h-11.3zM306.4 1383.9h11.3v11h-11.3zM309.4 1383.9h11.3v11h-11.3zM312.6 1383.9h11.3v11h-11.3zM316 1383.9h11.3v11h-11.3zM319.6 1383.9h11.3v11h-11.3zM323.3 1383.9h11.3v11h-11.3zM327.3 1383.9h11.3v11h-11.3zM331.5 1383.9h11.3v11h-11.3zM335.9 1383.9h11.3v11h-11.3zM340.6 1383.9h11.3v11h-11.3zM345.5 1383.9h11.3v11h-11.3zM350.7 1383.9h11.3v11h-11.3zM356.2 1383.9h11.3v11h-11.3zM362 1383.9h11.3v11h-11.3zM368.1 1383.9h11.3v11h-11.3zM374.6 1383.9h11.3v11h-11.3zM381.5 1383.9h11.3v11h-11.3zM388.7 1383.9h11.3v11h-11.3zM396.3 1383.9h11.3v11h-11.3zM404.3 1383.9h11.3v11h-11.3zM412.8 1383.9h11.3v11h-11.3zM421.8 1383.9h11.3v11h-11.3zM431.3 1383.9h11.3v11h-11.3zM441.3 1383.9h11.3v11h-11.3zM451.8 1383.9h11.3v11h-11.3zM463 1383.9h11.3v11h-11.3zM474.8 1383.9h11.3v11h-11.3zM487.2 1383.9h11.3v11h-11.3zM500.3 1383.9h11.3v11h-11.3zM514.2 1383.9h11.3v11h-11.3zM528.8 1383.9h11.3v11h-11.3zM544.3 1383.9h11.3v11h-11.3zM560.6 1383.9h11.3v11h-11.3zM577.8 1383.9h11.3v11h-11.3zM596 1383.9h11.3v11h-11.3zM615.2 1383.9h11.3v11h-11.3zM635.5 1383.9h11.3v11h-11.3zM656.9 1383.9h11.3v11h-11.3zM679.5 1383.9h11.3v11h-11.3zM703.4 1383.9h11.3v11h-11.3zM728.6 1383.9h11.3v11h-11.3zM755.3 1383.9h11.3v11h-11.3zM783.4 1383.9h11.3v11h-11.3zM813.1 1383.9h11.3v11h-11.3zM844.4 1383.9h11.3v11h-11.3zM877.5 1387.7h11.3v11h-11.3zM912.5 1383.9h11.3v11h-11.3zM949.4 1387.7h11.3v11h-11.3z"/>
<polyline fill="none" stroke="#f00" stroke-width="0.8" stroke-opacity="0.85" points="258,1272.1 258,1272.1 258,1272.1 258,1272.1 258,1272.1 258,1272.1 258,1272.1 258,1272.1 258,1272.1 258,1272.1 258,1275.9 258,1275.9 258,1275.9 258,1275.9 258,1275.9 258,1275.9 258,1275.9 258,1275.9 258,1275.9 258,1275.9 258,1275.9 258,1275.9 258,1275.9 258,1275.9 258,1275.9 258.1,1275.9 258.1,1275.9 258.1,1275.9 258.1,1279.7 258.1,1279.7 258.1,1279.7 258.1,1279.7 258.1,1279.7 258.1,1279.7 258.1,1279.7 258.1,1279.7 258.1,1279.7 258.1,1279.7 258.1,1279.7 258.1,1279.7 258.1,1279.7 258.1,1279.7 258.1,1279.7 258.1,1279.7 258.1,1279.7 258.2,1283.5 258.2,1283.5 258.2,1283.5 258.2,1283.5 258.2,1283.5 258.2,1283.5 258.2,1283.5 258.2,1283.5 258.2,1283.5 258.2,1283.5 258.3,1283.5 258.3,1283.5 258.3,1283.5 258.3,1283.5 258.3,1283.5 258.3,1283.5 258.4,1283.5 258.4,1283.5 258.4,1287.2 258.4,1287.2 258.5,1287.2 258.5,1287.2 258.5,1287.2 258.5,1287.2 258.6,1287.2 258.6,1287.2 258.6,1287.2 258.7,1287.2 258.7,1287.2 258.7,1287.2 258.8,1287.2 258.8,1287.2 258.9,1287.2 258.9,1287.2 259,1287.2 259,1291 259.1,1291 259.1,1291 259.2,1291 259.3,1291 259.3,1291 259.4,1291 259.5,1291 259.6,1291 259.7,1291 259.8,1291 259.9,1291 260,1291 260.1,1291 260.2,1291 260.3,1291 260.4,1291 260.6,1291 260.7,1294.8 260.9,1294.8 261,1294.8 261.2,1294.8 261.4,1294.8 261.6,1294.8 261.8,1294.8 262,1294.8 262.2,1298.6 262.4,1298.6 262.7,1298.6 262.9,1298.6 263.2,1298.6 263.5,1298.6 263.8,1298.6 264.1,1298.6 264.5,1298.6 264.8,1298.6 265.2,1298.6 265.6,1298.6 266.1,1298.6 266.5,1298.6 267,1298.6 267.5,1298.6 268,1302.4 268.6,1302.4 269.2,1302.4 269.8,1302.4 270.4,1302.4 271.1,1302.4 271.9,1302.4 272.7,1302.4 273.5,1302.4 274.3,1302.4 275.3,1302.4 276.2,1302.4 277.2,1302.4 278.3,1302.4 279.4,1302.4 280.6,1302.4 281.9,1302.4 283.2,1302.4 284.7,1302.4 286.2,1302.4 287.7,1302.4 289.4,1302.4 291.1,1302.4 293,1302.4 294.9,1302.4 297,1302.4 299.2,1302.4 301.5,1302.4 303.9,1306.2 306.5,1306.2 309.2,1306.2 312.1,1306.2 315.1,1302.4 318.3,1306.2 321.7,1306.2 325.2,1306.2 329,1306.2 332.9,1306.2 337.1,1306.2 341.5,1306.2 346.2,1306.2 351.2,1306.2 356.4,1306.2 361.9,1306.2 367.7,1306.2 373.8,1306.2 380.3,1306.2 387.1,1306.2 394.3,1306.2 401.9,1306.2 410,1306.2 418.5,1306.2 427.4,1306.2 436.9,1306.2 446.9,1306.2 457.5,1306.2 468.6,1306.2 480.4,1306.2 492.8,1306.2 506,1306.2 519.8,1306.2 534.5,1306.2 549.9,1306.2 566.2,1306.2 583.5,1306.2 601.7,1306.2 620.9,1306.2 641.2,1306.2 662.6,1306.2 685.2,1306.2 709.1,1306.2 734.3,1306.2 760.9,1306.2 789,1306.2 818.7,1306.2 850.1,1309.9 883.2,1309.9 918.1,1309.9 955,1309.9"/>
<path fill="#f00" d="M251.7 1272.1a6.3 6.4 0 1 0 12.6 0a6.3 6.4 0 1 0 -12.6 0zM251.7 1272.1a6.3 6.4 0 1 0 12.6 0a6.3 6.4 0 1 0 -12.6 0zM251.7 1272.1a6.3 6.4 0 1 0 12.6 0a6.3 6.4 0 1 0 -12.6 0zM251.7 1272.1a6.3 6.4 0 1 0 12.6 0a6.3 6.4 0 1 0 -12.6 0zM251.7 1272.1a6.3 6.4 0 1 0 12.6 0a6.3 6.4 0 1 0 -12.6 0zM251.7 1272.1a6.3 6.4 0 1 0 12.6 0a6.3 6.4 0 1 0 -12.6 0zM251.7 1272.1a6.3 6.4 0 1 0 12.6 0a6.3 6.4 0 1 0 -12.6 0zM251.7 1272.1a6.3 6.4 0 1 0 12.6 0a6.3 6.4 0 1 0 -12.6 0zM251.7 1272.1a6.3 6.4 0 1 0 12.6 0a6.3 6.4 0 1 0 -12.6 0zM251.7 1272.1a6.3 6.4 0 1 0 12.6 0a6.3 6.4 0 1 0 -12.6 0zM251.7 1275.9a6.3 6.4 0 1 0 12.6 0a6.3 6.4 0 1 0 -12.6 0zM251.7 1275.9a6.3 6.4 0 1 0 12.6 0a6.3 6.4 0 1 0 -12.6 0zM251.7 1275.9a6.3 6.4 0 1 0 12.6 0a6.3 6.4 0 1 0 -12.6 0zM251.7 1275.9a6.3 6.4 0 1 0 12.6 0a6.3 6.4 0 1 0 -12.6 0zM251.7 1275.9a6.3 6.4 0 1 0 12.6 0a6.3 6.4 0 1 0 -12.6 0zM251.7 1275.9a6.3 6.4 0 1 0 12.6 0a6.3 6.4 0 1 0 -12.6 0zM251.7 1275.9a6.3 6.4 0 1 0 12.6 0a6.3 6.4 0 1 0 -12.6 0zM251.7 1275.9a6.3 6.4 0 1 0 12.6 0a6.3 6.4 0 1 0 -12.6 0zM251.7 1275.9a6.3 6.4 0 1 0 12.6 0a6.3 6.4 0 1 0 -12.6 0zM251.7 1275.9a6.3 6.4 0 1 0 12.6 0a6.3 6.4 0 1 0 -12.6 0zM251.7 1275.9a6.3 6.4 0 1 0 12.6 0a6.3 6.4 0 1 0 -12.6 0zM251.7 1275.9a6.3 6.4 0 1 0 12.6 0a6.3 6.4 0 1 0 -12.6 0zM251.7 1275.9a6.3 6.4 0 1 0 12.6 0a6.3 6.4 0 1 0 -12.6 0zM251.7 1275.9a6.3 6.4 0 1 0 12.6 0a6.3 6.4 0 1 0 -12.6 0zM251.7 1275.9a6.3 6.4 0 1 0 12.6 0a6.3 6.4 0 1 0 -12.6 0zM251.8 1275.9a6.3 6.4 0 1 0 12.6 0a6.3 6.4 0 1 0 -12.6 0zM251.8 1275.9a6.3 6.4 0 1 0 12.6 0a6.3 6.4 0 1 0 -12.6 0zM251.8 1275.9a6.3 6.4 0 1 0 12.6 0a6.3 6.4 0 1 0 -12.6 0zM251.8 1279.7a6.3 6.4 0 1 0 12.6 0a6.3 6.4 0 1 0 -12.6 0zM251.8 1279.7a6.3 6.4 0 1 0 12.6 0a6.3 6.4 0 1 0 -12.6 0zM251.8 1279.7a6.3 6.4 0 1 0 12.6 0a6.3 6.4 0 1 0 -12.6 0zM251.8 1279.7a6.3 6.4 0 1 0 12.6 0a6.3 6.4 0 1 0 -12.6 0zM251.8 1279.7a6.3 6.4 0 1 0 12.6 0a6.3 6.4 0 1 0 -12.6 0zM251.8 1279.7a6.3 6.4 0 1 0 12.6 0a6.3 6.4 0 1 0 -12.6 0zM251.8 1279.7a6.3 6.4 0 1 0 12.6 0a6.3 6.4 0 1 0 -12.6 0zM251.8 1279.7a6.3 6.4 0 1 0 12.6 0a6.3 6.4 0 1 0 -12.6 0zM251.8 1279.7a6.3 6.4 0 1 0 12.6 0a6.3 6.4 0 1 0 -12.6 0zM251.8 1279.7a6.3 6.4 0 1 0 12.6 0a6.3 6.4 0 1 0 -12.6 0zM251.8 1279.7a6.3 6.4 0 1 0 12.6 0a6.3 6.4 0 1 0 -12.6 0zM251.8 1279.7a6.3 6.4 0 1 0 12.6 0a6.3 6.4 0 1 0 -12.6 0zM251.8 1279.7a6.3 6.4 0 1 0 12.6 0a6.3 6.4 0 1 0 -12.6 0zM251.8 1279.7a6.3 6.4 0 1 0 12.6 0a6.3 6.4 0 1 0 -12.6 0zM251.8 1279.7a6.3 6.4 0 1 0 12.6 0a6.3 6.4 0 1 0 -12.6 0zM251.8 1279.7a6.3 6.4 0 1 0 12.6 0a6.3 6.4 0 1 0 -12.6 0zM251.8 1279.7a6.3 6.4 0 1 0 12.6 0a6.3 6.4 0 1 0 -12.6 0zM251.9 1283.5a6.3 6.4 0 1 0 12.6 0a6.3 6.4 0 1 0 -12.6 0zM251.9 1283.5a6.3 6.4 0 1 0 12.6 0a6.3 6.4 0 1 0 -12.6 0zM251.9 1283.5a6.3 6.4 0 1 0 12.6 0a6.3 6.4 0 1 0 -12.6 0zM251.9 1283.5a6.3 6.4 0 1 0 12.6 0a6.3 6.4 0 1 0 -12.6 0zM251.9 1283.5a6.3 6.4 0 1 0 12.6 0a6.3 6.4 0 1 0 -12.6 0zM251.9 1283.5a6.3 6.4 0 1 0 12.6 0a6.3 6.4 0 1 0 -12.6 0zM251.9 1283.5a6.3 6.4 0 1 0 12.6 0a6.3 6.4 0 1 0 -12.6 0zM251.9 1283.5a6.3 6.4 0 1 0 12.6 0a6.3 6.4 0 1 0 -12.6 0zM251.9 1283.5a6.3 6.4 0 1 0 12.6 0a6.3 6.4 0 1 0 -12.6 0zM251.9 1283.5a6.3 6.4 0 1 0 12.6 0a6.3 6.4 0 1 0 -12.6 0zM252 1283.5a6.3 6.4 0 1 0 12.6 0a6.3 6.4 0 1 0 -12.6 0zM252 1283.5a6.3 6.4 0 1 0 12.6 0a6.3 6.4 0 1 0 -12.6 0zM252 1283.5a6.3 6.4 0 1 0 12.6 0a6.3 6.4 0 1 0 -12.6 0zM252 1283.5a6.3 6.4 0 1 0 12.6 0a6.3 6.4 0 1 0 -12.6 0zM252 1283.5a6.3 6.4 0 1 0 12.6 0a6.3 6.4 0 1 0 -12.6 0zM252 1283.5a6.3 6.4 0 1 0 12.6 0a6.3 6.4 0 1 0 -12.6 0zM252.1 1283.5a6.3 6.4 0 1 0 12.6 0a6.3 6.4 0 1 0 -12.6 0zM252.1 1283.5a6.3 6.4 0 1 0 12.6 0a6.3 6.4 0 1 0 -12.6 0zM252.1 1287.2a6.3 6.4 0 1 0 12.6 0a6.3 6.4 0 1 0 -12.6 0zM252.1 1287.2a6.3 6.4 0 1 0 12.6 0a6.3 6.4 0 1 0 -12.6 0zM252.2 1287.2a6.3 6.4 0 1 0 12.6 0a6.3 6.4 0 1 0 -12.6 0zM252.2 1287.2a6.3 6.4 0 1 0 12.6 0a6.3 6.4 0 1 0 -12.6 0zM252.2 1287.2a6.3 6.4 0 1 0 12.6 0a6.3 6.4 0 1 0 -12.6 0zM252.2 1287.2a6.3 6.4 0 1 0 12.6 0a6.3 6.4 0 1 0 -12.6 0zM252.3 1287.2a6.3 6.4 0 1 0 12.6 0a6.3 6.4 0 1 0 -12.6 0zM252.3 1287.2a6.3 6.4 0 1 0 12.6 0a6.3 6.4 0 1 0 -12.6 0zM252.3 1287.2a6.3 6.4 0 1 0 12.6 0a6.3 6.4 0 1 0 -12.6 0zM252.4 1287.2a6.3 6.4 0 1 0 12.6 0a6.3 6.4 0 1 0 -12.6 0zM252.4 1287.2a6.3 6.4 0 1 0 12.6 0a6.3 6.4 0 1 0 -12.6 0zM252.4 1287.2a6.3 6.4 0 1 0 12.6 0a6.3 6.4 0 1 0 -12.6 0zM252.5 1287.2a6.3 6.4 0 1 0 12.6 0a6.3 6.4 0 1 0 -12.6 0zM252.5 1287.2a6.3 6.4 0 1 0 12.6 0a6.3 6.4 0 1 0 -12.6 0zM252.6 1287.2a6.3 6.4 0 1 0 12.6 0a6.3 6.4 0 1 0 -12.6 0zM252.6 1287.2a6.3 6.4 0 1 0 12.6 0a6.3 6.4 0 1 0 -12.6 0zM252.7 1287.2a6.3 6.4 0 1 0 12.6 0a6.3 6.4 0 1 0 -12.6 0zM252.7 1291a6.3 6.4 0 1 0 12.6 0a6.3 6.4 0 1 0 -12.6 0zM252.8 1291a6.3 6.4 0 1 0 12.6 0a6.3 6.4 0 1 0 -12.6 0zM252.8 1291a6.3 6.4 0 1 0 12.6 0a6.3 6.4 0 1 0 -12.6 0zM252.9 1291a6.3 6.4 0 1 0 12.6 0a6.3 6.4 0 1 0 -12.6 0zM253 1291a6.3 6.4 0 1 0 12.6 0a6.3 6.4 0 1 0 -12.6 0zM253 1291a6.3 6.4 0 1 0 12.6 0a6.3 6.4 0 1 0 -12.6 0zM253.1 1291a6.3 6.4 0 1 0 12.6 0a6.3 6.4 0 1 0 -12.6 0zM253.2 1291a6.3 6.4 0 1 0 12.6 0a6.3 6.4 0 1 0 -12.6 0zM253.3 1291a6.3 6.4 0 1 0 12.6 0a6.3 6.4 0 1 0 -12.6 0zM253.4 1291a6.3 6.4 0 1 0 12.6 0a6.3 6.4 0 1 0 -12.6 0zM253.5 1291a6.3 6.4 0 1 0 12.6 0a6.3 6.4 0 1 0 -12.6 0zM253.6 1291a6.3 6.4 0 1 0 12.6 0a6.3 6.4 0 1 0 -12.6 0zM253.7 1291a6.3 6.4 0 1 0 12.6 0a6.3 6.4 0 1 0 -12.6 0zM253.8 1291a6.3 6.4 0 1 0 12.6 0a6.3 6.4 0 1 0 -12.6 0zM253.9 1291a6.3 6.4 0 1 0 12.6 0a6.3 6.4 0 1 0 -12.6 0zM254 1291a6.3 6.4 0 1 0 12.6 0a6.3 6.4 0 1 0 -12.6 0zM254.1 1291a6.3 6.4 0 1 0 12.6 0a6.3 6.4 0 1 0 -12.6 0zM254.3 1291a6.3 6.4 0 1 0 12.6 0a6.3 6.4 0 1 0 -12.6 0zM254.4 1294.8a6.3 6.4 0 1 0 12.6 0a6.3 6.4 0 1 0 -12.6 0zM254.6 1294.8a6.3 6.4 0 1 0 12.6 0a6.3 6.4 0 1 0 -12.6 0zM254.7 1294.8a6.3 6.4 0 1 0 12.6 0a6.3 6.4 0 1 0 -12.6 0zM254.9 1294.8a6.3 6.4 0 1 0 12.6 0a6.3 6.4 0 1 0 -12.6 0zM255.1 1294.8a6.3 6.4 0 1 0 12.6 0a6.3 6.4 0 1 0 -12.6 0zM255.3 1294.8a6.3 6.4 0 1 0 12.6 0a6.3 6.4 0 1 0 -12.6 0zM255.5 1294.8a6.3 6.4 0 1 0 12.6 0a6.3 6.4 0 1 0 -12.6 0zM255.7 1294.8a6.3 6.4 0 1 0 12.6 0a6.3 6.4 0 1 0 -12.6 0zM255.9 1298.6a6.3 6.4 0 1 0 12.6 0a6.3 6.4 0 1 0 -12.6 0zM256.1 1298.6a6.3 6.4 0 1 0 12.6 0a6.3 6.4 0 1 0 -12.6 0zM256.4 1298.6a6.3 6.4 0 1 0 12.6 0a6.3 6.4 0 1 0 -12.6 0zM256.6 1298.6a6.3 6.4 0 1 0 12.6 0a6.3 6.4 0 1 0 -12.6 0zM256.9 1298.6a6.3 6.4 0 1 0 12.6 0a6.3 6.4 0 1 0 -12.6 0zM257.2 1298.6a6.3 6.4 0 1 0 12.6 0a6.3 6.4 0 1 0 -12.6 0zM257.5 1298.6a6.3 6.4 0 1 0 12.6 0a6.3 6.4 0 1 0 -12.6 0zM257.8 1298.6a6.3 6.4 0 1 0 12.6 0a6.3 6.4 0 1 0 -12.6 0zM258.2 1298.6a6.3 6.4 0 1 0 12.6 0a6.3 6.4 0 1 0 -12.6 0zM258.5 1298.6a6.3 6.4 0 1 0 12.6 0a6.3 6.4 0 1 0 -12.6 0zM258.9 1298.6a6.3 6.4 0 1 0 12.6 0a6.3 6.4 0 1 0 -12.6 0zM259.3 1298.6a6.3 6.4 0 1 0 12.6 0a6.3 6.4 0 1 0 -12.6 0zM259.8 1298.6a6.3 6.4 0 1 0 12.6 0a6.3 6.4 0 1 0 -12.6 0zM260.2 1298.6a6.3 6.4 0 1 0 12.6 0a6.3 6.4 0 1 0 -12.6 0zM260.7 1298.6a6.3 6.4 0 1 0 12.6 0a6.3 6.4 0 1 0 -12.6 0zM261.2 1298.6a6.3 6.4 0 1 0 12.6 0a6.3 6.4 0 1 0 -12.6 0zM261.7 1302.4a6.3 6.4 0 1 0 12.6 0a6.3 6.4 0 1 0 -12.6 0zM262.3 1302.4a6.3 6.4 0 1 0 12.6 0a6.3 6.4 0 1 0 -12.6 0zM262.9 1302.4a6.3 6.4 0 1 0 12.6 0a6.3 6.4 0 1 0 -12.6 0zM263.5 1302.4a6.3 6.4 0 1 0 12.6 0a6.3 6.4 0 1 0 -12.6 0zM264.1 1302.4a6.3 6.4 0 1 0 12.6 0a6.3 6.4 0 1 0 -12.6 0zM264.8 1302.4a6.3 6.4 0 1 0 12.6 0a6.3 6.4 0 1 0 -12.6 0zM265.6 1302.4a6.3 6.4 0 1 0 12.6 0a6.3 6.4 0 1 0 -12.6 0zM266.4 1302.4a6.3 6.4 0 1 0 12.6 0a6.3 6.4 0 1 0 -12.6 0zM267.2 1302.4a6.3 6.4 0 1 0 12.6 0a6.3 6.4 0 1 0 -12.6 0zM268 1302.4a6.3 6.4 0 1 0 12.6 0a6.3 6.4 0 1 0 -12.6 0zM269 1302.4a6.3 6.4 0 1 0 12.6 0a6.3 6.4 0 1 0 -12.6 0zM269.9 1302.4a6.3 6.4 0 1 0 12.6 0a6.3 6.4 0 1 0 -12.6 0zM270.9 1302.4a6.3 6.4 0 1 0 12.6 0a6.3 6.4 0 1 0 -12.6 0zM272 1302.4a6.3 6.4 0 1 0 12.6 0a6.3 6.4 0 1 0 -12.6 0zM273.1 1302.4a6.3 6.4 0 1 0 12.6 0a6.3 6.4 0 1 0 -12.6 0zM274.3 1302.4a6.3 6.4 0 1 0 12.6 0a6.3 6.4 0 1 0 -12.6 0zM275.6 1302.4a6.3 6.4 0 1 0 12.6 0a6.3 6.4 0 1 0 -12.6 0zM276.9 1302.4a6.3 6.4 0 1 0 12.6 0a6.3 6.4 0 1 0 -12.6 0zM278.4 1302.4a6.3 6.4 0 1 0 12.6 0a6.3 6.4 0 1 0 -12.6 0zM279.9 1302.4a6.3 6.4 0 1 0 12.6 0a6.3 6.4 0 1 0 -12.6 0zM281.4 1302.4a6.3 6.4 0 1 0 12.6 0a6.3 6.4 0 1 0 -12.6 0zM283.1 1302.4a6.3 6.4 0 1 0 12.6 0a6.3 6.4 0 1 0 -12.6 0zM284.8 1302.4a6.3 6.4 0 1 0 12.6 0a6.3 6.4 0 1 0 -12.6 0zM286.7 1302.4a6.3 6.4 0 1 0 12.6 0a6.3 6.4 0 1 0 -12.6 0zM288.6 1302.4a6.3 6.4 0 1 0 12.6 0a6.3 6.4 0 1 0 -12.6 0zM290.7 1302.4a6.3 6.4 0 1 0 12.6 0a6.3 6.4 0 1 0 -12.6 0zM292.9 1302.4a6.3 6.4 0 1 0 12.6 0a6.3 6.4 0 1 0 -12.6 0zM295.2 1302.4a6.3 6.4 0 1 0 12.6 0a6.3 6.4 0 1 0 -12.6 0zM297.6 1306.2a6.3 6.4 0 1 0 12.6 0a6.3 6.4 0 1 0 -12.6 0zM300.2 1306.2a6.3 6.4 0 1 0 12.6 0a6.3 6.4 0 1 0 -12.6 0zM302.9 1306.2a6.3 6.4 0 1 0 12.6 0a6.3 6.4 0 1 0 -12.6 0zM305.8 1306.2a6.3 6.4 0 1 0 12.6 0a6.3 6.4 0 1 0 -12.6 0zM308.8 1302.4a6.3 6.4 0 1 0 12.6 0a6.3 6.4 0 1 0 -12.6 0zM312 1306.2a6.3 6.4 0 1 0 12.6 0a6.3 6.4 0 1 0 -12.6 0zM315.4 1306.2a6.3 6.4 0 1 0 12.6 0a6.3 6.4 0 1 0 -12.6 0zM318.9 1306.2a6.3 6.4 0 1 0 12.6 0a6.3 6.4 0 1 0 -12.6 0zM322.7 1306.2a6.3 6.4 0 1 0 12.6 0a6.3 6.4 0 1 0 -12.6 0zM326.6 1306.2a6.3 6.4 0 1 0 12.6 0a6.3 6.4 0 1 0 -12.6 0zM330.8 1306.2a6.3 6.4 0 1 0 12.6 0a6.3 6.4 0 1 0 -12.6 0zM335.2 1306.2a6.3 6.4 0 1 0 12.6 0a6.3 6.4 0 1 0 -12.6 0zM339.9 1306.2a6.3 6.4 0 1 0 12.6 0a6.3 6.4 0 1 0 -12.6 0zM344.9 1306.2a6.3 6.4 0 1 0 12.6 0a6.3 6.4 0 1 0 -12.6 0zM350.1 1306.2a6.3 6.4 0 1 0 12.6 0a6.3 6.4 0 1 0 -12.6 0zM355.6 1306.2a6.3 6.4 0 1 0 12.6 0a6.3 6.4 0 1 0 -12.6 0zM361.4 1306.2a6.3 6.4 0 1 0 12.6 0a6.3 6.4 0 1 0 -12.6 0zM367.5 1306.2a6.3 6.4 0 1 0 12.6 0a6.3 6.4 0 1 0 -12.6 0zM374 1306.2a6.3 6.4 0 1 0 12.6 0a6.3 6.4 0 1 0 -12.6 0zM380.8 1306.2a6.3 6.4 0 1 0 12.6 0a6.3 6.4 0 1 0 -12.6 0zM388 1306.2a6.3 6.4 0 1 0 12.6 0a6.3 6.4 0 1 0 -12.6 0zM395.6 1306.2a6.3 6.4 0 1 0 12.6 0a6.3 6.4 0 1 0 -12.6 0zM403.7 1306.2a6.3 6.4 0 1 0 12.6 0a6.3 6.4 0 1 0 -12.6 0zM412.2 1306.2a6.3 6.4 0 1 0 12.6 0a6.3 6.4 0 1 0 -12.6 0zM421.1 1306.2a6.3 6.4 0 1 0 12.6 0a6.3 6.4 0 1 0 -12.6 0zM430.6 1306.2a6.3 6.4 0 1 0 12.6 0a6.3 6.4 0 1 0 -12.6 0zM440.6 1306.2a6.3 6.4 0 1 0 12.6 0a6.3 6.4 0 1 0 -12.6 0zM451.2 1306.2a6.3 6.4 0 1 0 12.6 0a6.3 6.4 0 1 0 -12.6 0zM462.3 1306.2a6.3 6.4 0 1 0 12.6 0a6.3 6.4 0 1 0 -12.6 0zM474.1 1306.2a6.3 6.4 0 1 0 12.6 0a6.3 6.4 0 1 0 -12.6 0zM486.5 1306.2a6.3 6.4 0 1 0 12.6 0a6.3 6.4 0 1 0 -12.6 0zM499.7 1306.2a6.3 6.4 0 1 0 12.6 0a6.3 6.4 0 1 0 -12.6 0zM513.5 1306.2a6.3 6.4 0 1 0 12.6 0a6.3 6.4 0 1 0 -12.6 0zM528.2 1306.2a6.3 6.4 0 1 0 12.6 0a6.3 6.4 0 1 0 -12.6 0zM543.6 1306.2a6.3 6.4 0 1 0 12.6 0a6.3 6.4 0 1 0 -12.6 0zM559.9 1306.2a6.3 6.4 0 1 0 12.6 0a6.3 6.4 0 1 0 -12.6 0zM577.2 1306.2a6.3 6.4 0 1 0 12.6 0a6.3 6.4 0 1 0 -12.6 0zM595.4 1306.2a6.3 6.4 0 1 0 12.6 0a6.3 6.4 0 1 0 -12.6 0zM614.6 1306.2a6.3 6.4 0 1 0 12.6 0a6.3 6.4 0 1 0 -12.6 0zM634.9 1306.2a6.3 6.4 0 1 0 12.6 0a6.3 6.4 0 1 0 -12.6 0zM656.3 1306.2a6.3 6.4 0 1 0 12.6 0a6.3 6.4 0 1 0 -12.6 0zM678.9 1306.2a6.3 6.4 0 1 0 12.6 0a6.3 6.4 0 1 0 -12.6 0zM702.8 1306.2a6.3 6.4 0 1 0 12.6 0a6.3 6.4 0 1 0 -12.6 0zM728 1306.2a6.3 6.4 0 1 0 12.6 0a6.3 6.4 0 1 0 -12.6 0zM754.6 1306.2a6.3 6.4 0 1 0 12.6 0a6.3 6.4 0 1 0 -12.6 0zM782.7 1306.2a6.3 6.4 0 1 0 12.6 0a6.3 6.4 0 1 0 -12.6 0zM812.4 1306.2a6.3 6.4 0 1 0 12.6 0a6.3 6.4 0 1 0 -12.6 0zM843.8 1309.9a6.3 6.4 0 1 0 12.6 0a6.3 6.4 0 1 0 -12.6 0zM876.9 1309.9a6.3 6.4 0 1 0 12.6 0a6.3 6.4 0 1 0 -12.6 0zM911.8 1309.9a6.3 6.4 0 1 0 12.6 0a6.3 6.4 0 1 0 -12.6 0zM948.7 1309.9a6.3 6.4 0 1 0 12.6 0a6.3 6.4 0 1 0 -12.6 0z"/>
<polyline fill="none" stroke="#00f" stroke-width="0.8" stroke-opacity="0.8" points="258,1192.6 258,1192.6 258,1192.6 258,1192.6 258,1192.6 258,1196.4 258,1196.4 258,1196.4 258,1196.4 258,1196.4 258,1196.4 258,1200.2 258,1200.2 258,1200.2 258,1200.2 258,1200.2 258,1200.2 258,1204 258,1204 258,1204 258,1204 258,1204 258,1204 258,1204 258,1207.8 258.1,1207.8 258.1,1207.8 258.1,1207.8 258.1,1207.8 258.1,1207.8 258.1,1211.5 258.1,1211.5 258.1,1211.5 258.1,1211.5 258.1,1211.5 258.1,1211.5 258.1,1215.3 258.1,1215.3 258.1,1215.3 258.1,1215.3 258.1,1215.3 258.1,1215.3 258.1,1215.3 258.1,1219.1 258.1,1219.1 258.2,1219.1 258.2,1219.1 258.2,1219.1 258.2,1219.1 258.2,1222.9 258.2,1222.9 258.2,1222.9 258.2,1222.9 258.2,1222.9 258.2,1222.9 258.3,1222.9 258.3,1226.7 258.3,1226.7 258.3,1226.7 258.3,1226.7 258.3,1226.7 258.4,1226.7 258.4,1230.5 258.4,1230.5 258.4,1230.5 258.5,1230.5 258.5,1230.5 258.5,1230.5 258.5,1234.2 258.6,1234.2 258.6,1234.2 258.6,1234.2 258.7,1234.2 258.7,1234.2 258.7,1234.2 258.8,1238 258.8,1238 258.9,1238 258.9,1238 259,1238 259,1238 259.1,1241.8 259.1,1241.8 259.2,1241.8 259.3,1241.8 259.3,1241.8 259.4,1241.8 259.5,1245.6 259.6,1245.6 259.7,1245.6 259.8,1245.6 259.9,1245.6 260,1245.6 260.1,1245.6 260.2,1249.4 260.3,1249.4 260.4,1249.4 260.6,1249.4 260.7,1249.4 260.9,1249.4 261,1253.2 261.2,1253.2 261.4,1253.2 261.6,1253.2 261.8,1253.2 262,1253.2 262.2,1257 262.4,1257 262.7,1257 262.9,1257 263.2,1257 263.5,1257 263.8,1257 264.1,1260.7 264.5,1260.7 264.8,1260.7 265.2,1264.5 265.6,1264.5 266.1,1264.5 266.5,1264.5 267,1264.5 267.5,1264.5 268,1264.5 268.6,1264.5 269.2,1264.5 269.8,1264.5 270.4,1264.5 271.1,1264.5 271.9,1264.5 272.7,1264.5 273.5,1264.5 274.3,1264.5 275.3,1264.5 276.2,1264.5 277.2,1264.5 278.3,1264.5 279.4,1264.5 280.6,1264.5 281.9,1264.5 283.2,1268.3 284.7,1268.3 286.2,1268.3 287.7,1268.3 289.4,1268.3 291.1,1268.3 293,1268.3 294.9,1268.3 297,1268.3 299.2,1268.3 301.5,1268.3 303.9,1268.3 306.5,1268.3 309.2,1268.3 312.1,1268.3 315.1,1268.3 318.3,1268.3 321.7,1268.3 325.2,1268.3 329,1268.3 332.9,1268.3 337.1,1268.3 341.5,1268.3 346.2,1268.3 351.2,1268.3 356.4,1268.3 361.9,1268.3 367.7,1268.3 373.8,1268.3 380.3,1268.3 387.1,1268.3 394.3,1268.3 401.9,1272.1 410,1272.1 418.5,1272.1 427.4,1272.1 436.9,1272.1 446.9,1272.1 457.5,1272.1 468.6,1272.1 480.4,1272.1 492.8,1272.1 506,1272.1 519.8,1272.1 534.5,1272.1 549.9,1272.1 566.2,1272.1 583.5,1272.1 601.7,1272.1 620.9,1272.1 641.2,1272.1 662.6,1272.1 685.2,1272.1 709.1,1272.1 734.3,1272.1 760.9,1272.1 789,1272.1 818.7,1272.1 850.1,1272.1 883.2,1272.1 918.1,1272.1 955,1272.1"/>
<path fill="#00f" d="M258 1183.7l7.8 13.3h-15.7zM258 1183.7l7.8 13.3h-15.7zM258 1183.7l7.8 13.3h-15.7zM258 1183.7l7.8 13.3h-15.7zM258 1183.7l7.8 13.3h-15.7zM258 1187.5l7.8 13.3h-15.7zM258 1187.5l7.8 13.3h-15.7zM258 1187.5l7.8 13.3h-15.7zM258 1187.5l7.8 13.3h-15.7zM258 1187.5l7.8 13.3h-15.7zM258 1187.5l7.8 13.3h-15.7zM258 1191.3l7.8 13.3h-15.7zM258 1191.3l7.8 13.3h-15.7zM258 1191.3l7.8 13.3h-15.7zM258 1191.3l7.8 13.3h-15.7zM258 1191.3l7.8 13.3h-15.7zM258 1191.3l7.8 13.3h-15.7zM258 1195.1l7.8 13.3h-15.7zM258 1195.1l7.8 13.3h-15.7zM258 1195.1l7.8 13.3h-15.7zM258 1195.1l7.8 13.3h-15.7zM258 1195.1l7.8 13.3h-15.7zM258 1195.1l7.8 13.3h-15.7zM258 1195.1l7.8 13.3h-15.7zM258 1198.9l7.8 13.3h-15.7zM258.1 1198.9l7.8 13.3h-15.7zM258.1 1198.9l7.8 13.3h-15.7zM258.1 1198.9l7.8 13.3h-15.7zM258.1 1198.9l7.8 13.3h-15.7zM258.1 1198.9l7.8 13.3h-15.7zM258.1 1202.7l7.8 13.3h-15.7zM258.1 1202.7l7.8 13.3h-15.7zM258.1 1202.7l7.8 13.3h-15.7zM258.1 1202.7l7.8 13.3h-15.7zM258.1 1202.7l7.8 13.3h-15.7zM258.1 1202.7l7.8 13.3h-15.7zM258.1 1206.5l7.8 13.3h-15.7zM258.1 1206.5l7.8 13.3h-15.7zM258.1 1206.5l7.8 13.3h-15.7zM258.1 1206.5l7.8 13.3h-15.7zM258.1 1206.5l7.8 13.3h-15.7zM258.1 1206.5l7.8 13.3h-15.7zM258.1 1206.5l7.8 13.3h-15.7zM258.1 1210.2l7.8 13.3h-15.7zM258.1 1210.2l7.8 13.3h-15.7zM258.2 1210.2l7.8 13.3h-15.7zM258.2 1210.2l7.8 13.3h-15.7zM258.2 1210.2l7.8 13.3h-15.7zM258.2 1210.2l7.8 13.3h-15.7zM258.2 1214l7.8 13.3h-15.7zM258.2 1214l7.8 13.3h-15.7zM258.2 1214l7.8 13.3h-15.7zM258.2 1214l7.8 13.3h-15.7zM258.2 1214l7.8 13.3h-15.7zM258.2 1214l7.8 13.3h-15.7zM258.3 1214l7.8 13.3h-15.7zM258.3 1217.8l7.8 13.3h-15.7zM258.3 1217.8l7.8 13.3h-15.7zM258.3 1217.8l7.8 13.3h-15.7zM258.3 1217.8l7.8 13.3h-15.7zM258.3 1217.8l7.8 13.3h-15.7zM258.4 1217.8l7.8 13.3h-15.7zM258.4 1221.6l7.8 13.3h-15.7zM258.4 1221.6l7.8 13.3h-15.7zM258.4 1221.6l7.8 13.3h-15.7zM258.5 1221.6l7.8 13.3h-15.7zM258.5 1221.6l7.8 13.3h-15.7zM258.5 1221.6l7.8 13.3h-15.7zM258.5 1225.4l7.8 13.3h-15.7zM258.6 1225.4l7.8 13.3h-15.7zM258.6 1225.4l7.8 13.3h-15.7zM258.6 1225.4l7.8 13.3h-15.7zM258.7 1225.4l7.8 13.3h-15.7zM258.7 1225.4l7.8 13.3h-15.7zM258.7 1225.4l7.8 13.3h-15.7zM258.8 1229.2l7.8 13.3h-15.7zM258.8 1229.2l7.8 13.3h-15.7zM258.9 1229.2l7.8 13.3h-15.7zM258.9 1229.2l7.8 13.3h-15.7zM259 1229.2l7.8 13.3h-15.7zM259 1229.2l7.8 13.3h-15.7zM259.1 1232.9l7.8 13.3h-15.7zM259.1 1232.9l7.8 13.3h-15.7zM259.2 1232.9l7.8 13.3h-15.7zM259.3 1232.9l7.8 13.3h-15.7zM259.3 1232.9l7.8 13.3h-15.7zM259.4 1232.9l7.8 13.3h-15.7zM259.5 1236.7l7.8 13.3h-15.7zM259.6 1236.7l7.8 13.3h-15.7zM259.7 1236.7l7.8 13.3h-15.7zM259.8 1236.7l7.8 13.3h-15.7zM259.9 1236.7l7.8 13.3h-15.7zM260 1236.7l7.8 13.3h-15.7zM260.1 1236.7l7.8 13.3h-15.7zM260.2 1240.5l7.8 13.3h-15.7zM260.3 1240.5l7.8 13.3h-15.7zM260.4 1240.5l7.8 13.3h-15.7zM260.6 1240.5l7.8 13.3h-15.7zM260.7 1240.5l7.8 13.3h-15.7zM260.9 1240.5l7.8 13.3h-15.7zM261 1244.3l7.8 13.3h-15.7zM261.2 1244.3l7.8 13.3h-15.7zM261.4 1244.3l7.8 13.3h-15.7zM261.6 1244.3l7.8 13.3h-15.7zM261.8 1244.3l7.8 13.3h-15.7zM262 1244.3l7.8 13.3h-15.7zM262.2 1248.1l7.8 13.3h-15.7zM262.4 1248.1l7.8 13.3h-15.7zM262.7 1248.1l7.8 13.3h-15.7zM262.9 1248.1l7.8 13.3h-15.7zM263.2 1248.1l7.8 13.3h-15.7zM263.5 1248.1l7.8 13.3h-15.7zM263.8 1248.1l7.8 13.3h-15.7zM264.1 1251.9l7.8 13.3h-15.7zM264.5 1251.9l7.8 13.3h-15.7zM264.8 1251.9l7.8 13.3h-15.7zM265.2 1255.7l7.8 13.3h-15.7zM265.6 1255.7l7.8 13.3h-15.7zM266.1 1255.7l7.8 13.3h-15.7zM266.5 1255.7l7.8 13.3h-15.7zM267 1255.7l7.8 13.3h-15.7zM267.5 1255.7l7.8 13.3h-15.7zM268 1255.7l7.8 13.3h-15.7zM268.6 1255.7l7.8 13.3h-15.7zM269.2 1255.7l7.8 13.3h-15.7zM269.8 1255.7l7.8 13.3h-15.7zM270.4 1255.7l7.8 13.3h-15.7zM271.1 1255.7l7.8 13.3h-15.7zM271.9 1255.7l7.8 13.3h-15.7zM272.7 1255.7l7.8 13.3h-15.7zM273.5 1255.7l7.8 13.3h-15.7zM274.3 1255.7l7.8 13.3h-15.7zM275.3 1255.7l7.8 13.3h-15.7zM276.2 1255.7l7.8 13.3h-15.7zM277.2 1255.7l7.8 13.3h-15.7zM278.3 1255.7l7.8 13.3h-15.7zM279.4 1255.7l7.8 13.3h-15.7zM280.6 1255.7l7.8 13.3h-15.7zM281.9 1255.7l7.8 13.3h-15.7zM283.2 1259.4l7.8 13.3h-15.7zM284.7 1259.4l7.8 13.3h-15.7zM286.2 1259.4l7.8 13.3h-15.7zM287.7 1259.4l7.8 13.3h-15.7zM289.4 1259.4l7.8 13.3h-15.7zM291.1 1259.4l7.8 13.3h-15.7zM293 1259.4l7.8 13.3h-15.7zM294.9 1259.4l7.8 13.3h-15.7zM297 1259.4l7.8 13.3h-15.7zM299.2 1259.4l7.8 13.3h-15.7zM301.5 1259.4l7.8 13.3h-15.7zM303.9 1259.4l7.8 13.3h-15.7zM306.5 1259.4l7.8 13.3h-15.7zM309.2 1259.4l7.8 13.3h-15.7zM312.1 1259.4l7.8 13.3h-15.7zM315.1 1259.4l7.8 13.3h-15.7zM318.3 1259.4l7.8 13.3h-15.7zM321.7 1259.4l7.8 13.3h-15.7zM325.2 1259.4l7.8 13.3h-15.7zM329 1259.4l7.8 13.3h-15.7zM332.9 1259.4l7.8 13.3h-15.7zM337.1 1259.4l7.8 13.3h-15.7zM341.5 1259.4l7.8 13.3h-15.7zM346.2 1259.4l7.8 13.3h-15.7zM351.2 1259.4l7.8 13.3h-15.7zM356.4 1259.4l7.8 13.3h-15.7zM361.9 1259.4l7.8 13.3h-15.7zM367.7 1259.4l7.8 13.3h-15.7zM373.8 1259.4l7.8 13.3h-15.7zM380.3 1259.4l7.8 13.3h-15.7zM387.1 1259.4l7.8 13.3h-15.7zM394.3 1259.4l7.8 13.3h-15.7zM401.9 1263.2l7.8 13.3h-15.7zM410 1263.2l7.8 13.3h-15.7zM418.5 1263.2l7.8 13.3h-15.7zM427.4 1263.2l7.8 13.3h-15.7zM436.9 1263.2l7.8 13.3h-15.7zM446.9 1263.2l7.8 13.3h-15.7zM457.5 1263.2l7.8 13.3h-15.7zM468.6 1263.2l7.8 13.3h-15.7zM480.4 1263.2l7.8 13.3h-15.7zM492.8 1263.2l7.8 13.3h-15.7zM506 1263.2l7.8 13.3h-15.7zM519.8 1263.2l7.8 13.3h-15.7zM534.5 1263.2l7.8 13.3h-15.7zM549.9 1263.2l7.8 13.3h-15.7zM566.2 1263.2l7.8 13.3h-15.7zM583.5 1263.2l7.8 13.3h-15.7zM601.7 1263.2l7.8 13.3h-15.7zM620.9 1263.2l7.8 13.3h-15.7zM641.2 1263.2l7.8 13.3h-15.7zM662.6 1263.2l7.8 13.3h-15.7zM685.2 1263.2l7.8 13.3h-15.7zM709.1 1263.2l7.8 13.3h-15.7zM734.3 1263.2l7.8 13.3h-15.7zM760.9 1263.2l7.8 13.3h-15.7zM789 1263.2l7.8 13.3h-15.7zM818.7 1263.2l7.8 13.3h-15.7zM850.1 1263.2l7.8 13.3h-15.7zM883.2 1263.2l7.8 13.3h-15.7zM918.1 1263.2l7.8 13.3h-15.7zM955 1263.2l7.8 13.3h-15.7z"/>
<polyline fill="none" stroke="#f0f" stroke-width="0.9" stroke-opacity="0.55" points="258,896.2 258,908.7 258,908.7 258,912.5 258,912.5 258,916.3 258,916.3 258,920.1 258,920.1 258,923.9 258,923.9 258,927.7 258,931.4 258,931.4 258,935.2 258,935.2 258,939 258,939 258,942.8 258,942.8 258,946.6 258,950.4 258,950.4 258,954.2 258,954.2 258.1,957.9 258.1,957.9 258.1,961.7 258.1,961.7 258.1,965.5 258.1,969.3 258.1,969.3 258.1,973.1 258.1,973.1 258.1,976.9 258.1,976.9 258.1,980.7 258.1,980.7 258.1,984.4 258.1,988.2 258.1,988.2 258.1,992 258.1,992 258.1,995.8 258.1,995.8 258.2,999.6 258.2,999.6 258.2,1003.4 258.2,1007.1 258.2,1007.1 258.2,1010.9 258.2,1010.9 258.2,1014.7 258.2,1014.7 258.2,1018.5 258.3,1018.5 258.3,1022.3 258.3,1026.1 258.3,1026.1 258.3,1029.9 258.3,1029.9 258.4,1033.6 258.4,1033.6 258.4,1037.4 258.4,1037.4 258.5,1041.2 258.5,1045 258.5,1045 258.5,1048.8 258.6,1048.8 258.6,1052.6 258.6,1052.6 258.7,1056.3 258.7,1056.3 258.7,1060.1 258.8,1063.9 258.8,1063.9 258.9,1067.7 258.9,1067.7 259,1071.5 259,1071.5 259.1,1075.3 259.1,1075.3 259.2,1079.1 259.3,1082.8 259.3,1082.8 259.4,1086.6 259.5,1086.6 259.6,1090.4 259.7,1090.4 259.8,1094.2 259.9,1094.2 260,1098 260.1,1101.8 260.2,1101.8 260.3,1105.6 260.4,1105.6 260.6,1105.6 260.7,1105.6 260.9,1109.3 261,1109.3 261.2,1109.3 261.4,1109.3 261.6,1109.3 261.8,1109.3 262,1109.3 262.2,1113.1 262.4,1113.1 262.7,1113.1 262.9,1113.1 263.2,1113.1 263.5,1113.1 263.8,1113.1 264.1,1116.9 264.5,1116.9 264.8,1116.9 265.2,1116.9 265.6,1116.9 266.1,1116.9 266.5,1116.9 267,1116.9 267.5,1116.9 268,1116.9 268.6,1116.9 269.2,1120.7 269.8,1120.7 270.4,1120.7 271.1,1120.7 271.9,1120.7 272.7,1120.7 273.5,1120.7 274.3,1120.7 275.3,1120.7 276.2,1120.7 277.2,1120.7 278.3,1120.7 279.4,1120.7 280.6,1120.7 281.9,1120.7 283.2,1120.7 284.7,1120.7 286.2,1120.7 287.7,1120.7 289.4,1124.5 291.1,1124.5 293,1124.5 294.9,1124.5 297,1124.5 299.2,1124.5 301.5,1124.5 303.9,1124.5 306.5,1124.5 309.2,1124.5 312.1,1124.5 315.1,1124.5 318.3,1124.5 321.7,1124.5 325.2,1124.5 329,1124.5 332.9,1124.5 337.1,1124.5 341.5,1124.5 346.2,1124.5 351.2,1124.5 356.4,1124.5 361.9,1124.5 367.7,1124.5 373.8,1128.3 380.3,1128.3 387.1,1128.3 394.3,1128.3 401.9,1128.3 410,1128.3 418.5,1128.3 427.4,1128.3 436.9,1128.3 446.9,1128.3 457.5,1128.3 468.6,1128.3 480.4,1128.3 492.8,1128.3 506,1128.3 519.8,1128.3 534.5,1128.3 549.9,1128.3 566.2,1128.3 583.5,1128.3 601.7,1128.3 620.9,1128.3 641.2,1128.3 662.6,1128.3 685.2,1128.3 709.1,1128.3 734.3,1128.3 760.9,1128.3 789,1132.1 818.7,1128.3 850.1,1132.1 883.2,1128.3 918.1,1128.3 955,1132.1"/>
<path fill="#f0f" d="M258 905l7.8 -13.7h-15.7zM258 917.5l7.8 -13.7h-15.7zM258 917.5l7.8 -13.7h-15.7zM258 921.3l7.8 -13.7h-15.7zM258 921.3l7.8 -13.7h-15.7zM258 925.1l7.8 -13.7h-15.7zM258 925.1l7.8 -13.7h-15.7zM258 928.9l7.8 -13.7h-15.7zM258 928.9l7.8 -13.7h-15.7zM258 932.7l7.8 -13.7h-15.7zM258 932.7l7.8 -13.7h-15.7zM258 936.4l7.8 -13.7h-15.7zM258 940.2l7.8 -13.7h-15.7zM258 940.2l7.8 -13.7h-15.7zM258 944l7.8 -13.7h-15.7zM258 944l7.8 -13.7h-15.7zM258 947.8l7.8 -13.7h-15.7zM258 947.8l7.8 -13.7h-15.7zM258 951.6l7.8 -13.7h-15.7zM258 951.6l7.8 -13.7h-15.7zM258 955.4l7.8 -13.7h-15.7zM258 959.2l7.8 -13.7h-15.7zM258 959.2l7.8 -13.7h-15.7zM258 962.9l7.8 -13.7h-15.7zM258 962.9l7.8 -13.7h-15.7zM258.1 966.7l7.8 -13.7h-15.7zM258.1 966.7l7.8 -13.7h-15.7zM258.1 970.5l7.8 -13.7h-15.7zM258.1 970.5l7.8 -13.7h-15.7zM258.1 974.3l7.8 -13.7h-15.7zM258.1 978.1l7.8 -13.7h-15.7zM258.1 978.1l7.8 -13.7h-15.7zM258.1 981.9l7.8 -13.7h-15.7zM258.1 981.9l7.8 -13.7h-15.7zM258.1 985.6l7.8 -13.7h-15.7zM258.1 985.6l7.8 -13.7h-15.7zM258.1 989.4l7.8 -13.7h-15.7zM258.1 989.4l7.8 -13.7h-15.7zM258.1 993.2l7.8 -13.7h-15.7zM258.1 997l7.8 -13.7h-15.7zM258.1 997l7.8 -13.7h-15.7zM258.1 1000.8l7.8 -13.7h-15.7zM258.1 1000.8l7.8 -13.7h-15.7zM258.1 1004.6l7.8 -13.7h-15.7zM258.1 1004.6l7.8 -13.7h-15.7zM258.2 1008.4l7.8 -13.7h-15.7zM258.2 1008.4l7.8 -13.7h-15.7zM258.2 1012.1l7.8 -13.7h-15.7zM258.2 1015.9l7.8 -13.7h-15.7zM258.2 1015.9l7.8 -13.7h-15.7zM258.2 1019.7l7.8 -13.7h-15.7zM258.2 1019.7l7.8 -13.7h-15.7zM258.2 1023.5l7.8 -13.7h-15.7zM258.2 1023.5l7.8 -13.7h-15.7zM258.2 1027.3l7.8 -13.7h-15.7zM258.3 1027.3l7.8 -13.7h-15.7zM258.3 1031.1l7.8 -13.7h-15.7zM258.3 1034.9l7.8 -13.7h-15.7zM258.3 1034.9l7.8 -13.7h-15.7zM258.3 1038.6l7.8 -13.7h-15.7zM258.3 1038.6l7.8 -13.7h-15.7zM258.4 1042.4l7.8 -13.7h-15.7zM258.4 1042.4l7.8 -13.7h-15.7zM258.4 1046.2l7.8 -13.7h-15.7zM258.4 1046.2l7.8 -13.7h-15.7zM258.5 1050l7.8 -13.7h-15.7zM258.5 1053.8l7.8 -13.7h-15.7zM258.5 1053.8l7.8 -13.7h-15.7zM258.5 1057.6l7.8 -13.7h-15.7zM258.6 1057.6l7.8 -13.7h-15.7zM258.6 1061.3l7.8 -13.7h-15.7zM258.6 1061.3l7.8 -13.7h-15.7zM258.7 1065.1l7.8 -13.7h-15.7zM258.7 1065.1l7.8 -13.7h-15.7zM258.7 1068.9l7.8 -13.7h-15.7zM258.8 1072.7l7.8 -13.7h-15.7zM258.8 1072.7l7.8 -13.7h-15.7zM258.9 1076.5l7.8 -13.7h-15.7zM258.9 1076.5l7.8 -13.7h-15.7zM259 1080.3l7.8 -13.7h-15.7zM259 1080.3l7.8 -13.7h-15.7zM259.1 1084.1l7.8 -13.7h-15.7zM259.1 1084.1l7.8 -13.7h-15.7zM259.2 1087.8l7.8 -13.7h-15.7zM259.3 1091.6l7.8 -13.7h-15.7zM259.3 1091.6l7.8 -13.7h-15.7zM259.4 1095.4l7.8 -13.7h-15.7zM259.5 1095.4l7.8 -13.7h-15.7zM259.6 1099.2l7.8 -13.7h-15.7zM259.7 1099.2l7.8 -13.7h-15.7zM259.8 1103l7.8 -13.7h-15.7zM259.9 1103l7.8 -13.7h-15.7zM260 1106.8l7.8 -13.7h-15.7zM260.1 1110.6l7.8 -13.7h-15.7zM260.2 1110.6l7.8 -13.7h-15.7zM260.3 1114.3l7.8 -13.7h-15.7zM260.4 1114.3l7.8 -13.7h-15.7zM260.6 1114.3l7.8 -13.7h-15.7zM260.7 1114.3l7.8 -13.7h-15.7zM260.9 1118.1l7.8 -13.7h-15.7zM261 1118.1l7.8 -13.7h-15.7zM261.2 1118.1l7.8 -13.7h-15.7zM261.4 1118.1l7.8 -13.7h-15.7zM261.6 1118.1l7.8 -13.7h-15.7zM261.8 1118.1l7.8 -13.7h-15.7zM262 1118.1l7.8 -13.7h-15.7zM262.2 1121.9l7.8 -13.7h-15.7zM262.4 1121.9l7.8 -13.7h-15.7zM262.7 1121.9l7.8 -13.7h-15.7zM262.9 1121.9l7.8 -13.7h-15.7zM263.2 1121.9l7.8 -13.7h-15.7zM263.5 1121.9l7.8 -13.7h-15.7zM263.8 1121.9l7.8 -13.7h-15.7zM264.1 1125.7l7.8 -13.7h-15.7zM264.5 1125.7l7.8 -13.7h-15.7zM264.8 1125.7l7.8 -13.7h-15.7zM265.2 1125.7l7.8 -13.7h-15.7zM265.6 1125.7l7.8 -13.7h-15.7zM266.1 1125.7l7.8 -13.7h-15.7zM266.5 1125.7l7.8 -13.7h-15.7zM267 1125.7l7.8 -13.7h-15.7zM267.5 1125.7l7.8 -13.7h-15.7zM268 1125.7l7.8 -13.7h-15.7zM268.6 1125.7l7.8 -13.7h-15.7zM269.2 1129.5l7.8 -13.7h-15.7zM269.8 1129.5l7.8 -13.7h-15.7zM270.4 1129.5l7.8 -13.7h-15.7zM271.1 1129.5l7.8 -13.7h-15.7zM271.9 1129.5l7.8 -13.7h-15.7zM272.7 1129.5l7.8 -13.7h-15.7zM273.5 1129.5l7.8 -13.7h-15.7zM274.3 1129.5l7.8 -13.7h-15.7zM275.3 1129.5l7.8 -13.7h-15.7zM276.2 1129.5l7.8 -13.7h-15.7zM277.2 1129.5l7.8 -13.7h-15.7zM278.3 1129.5l7.8 -13.7h-15.7zM279.4 1129.5l7.8 -13.7h-15.7zM280.6 1129.5l7.8 -13.7h-15.7zM281.9 1129.5l7.8 -13.7h-15.7zM283.2 1129.5l7.8 -13.7h-15.7zM284.7 1129.5l7.8 -13.7h-15.7zM286.2 1129.5l7.8 -13.7h-15.7zM287.7 1129.5l7.8 -13.7h-15.7zM289.4 1133.3l7.8 -13.7h-15.7zM291.1 1133.3l7.8 -13.7h-15.7zM293 1133.3l7.8 -13.7h-15.7zM294.9 1133.3l7.8 -13.7h-15.7zM297 1133.3l7.8 -13.7h-15.7zM299.2 1133.3l7.8 -13.7h-15.7zM301.5 1133.3l7.8 -13.7h-15.7zM303.9 1133.3l7.8 -13.7h-15.7zM306.5 1133.3l7.8 -13.7h-15.7zM309.2 1133.3l7.8 -13.7h-15.7zM312.1 1133.3l7.8 -13.7h-15.7zM315.1 1133.3l7.8 -13.7h-15.7zM318.3 1133.3l7.8 -13.7h-15.7zM321.7 1133.3l7.8 -13.7h-15.7zM325.2 1133.3l7.8 -13.7h-15.7zM329 1133.3l7.8 -13.7h-15.7zM332.9 1133.3l7.8 -13.7h-15.7zM337.1 1133.3l7.8 -13.7h-15.7zM341.5 1133.3l7.8 -13.7h-15.7zM346.2 1133.3l7.8 -13.7h-15.7zM351.2 1133.3l7.8 -13.7h-15.7zM356.4 1133.3l7.8 -13.7h-15.7zM361.9 1133.3l7.8 -13.7h-15.7zM367.7 1133.3l7.8 -13.7h-15.7zM373.8 1137l7.8 -13.7h-15.7zM380.3 1137l7.8 -13.7h-15.7zM387.1 1137l7.8 -13.7h-15.7zM394.3 1137l7.8 -13.7h-15.7zM401.9 1137l7.8 -13.7h-15.7zM410 1137l7.8 -13.7h-15.7zM418.5 1137l7.8 -13.7h-15.7zM427.4 1137l7.8 -13.7h-15.7zM436.9 1137l7.8 -13.7h-15.7zM446.9 1137l7.8 -13.7h-15.7zM457.5 1137l7.8 -13.7h-15.7zM468.6 1137l7.8 -13.7h-15.7zM480.4 1137l7.8 -13.7h-15.7zM492.8 1137l7.8 -13.7h-15.7zM506 1137l7.8 -13.7h-15.7zM519.8 1137l7.8 -13.7h-15.7zM534.5 1137l7.8 -13.7h-15.7zM549.9 1137l7.8 -13.7h-15.7zM566.2 1137l7.8 -13.7h-15.7zM583.5 1137l7.8 -13.7h-15.7zM601.7 1137l7.8 -13.7h-15.7zM620.9 1137l7.8 -13.7h-15.7zM641.2 1137l7.8 -13.7h-15.7zM662.6 1137l7.8 -13.7h-15.7zM685.2 1137l7.8 -13.7h-15.7zM709.1 1137l7.8 -13.7h-15.7zM734.3 1137l7.8 -13.7h-15.7zM760.9 1137l7.8 -13.7h-15.7zM789 1140.8l7.8 -13.7h-15.7zM818.7 1137l7.8 -13.7h-15.7zM850.1 1140.8l7.8 -13.7h-15.7zM883.2 1137l7.8 -13.7h-15.7zM918.1 1137l7.8 -13.7h-15.7zM955 1140.8l7.8 -13.7h-15.7z"/>
</g>
<text x="223" y="874.3" font-size="24" text-anchor="end" textLength="32" lengthAdjust="spacingAndGlyphs">2.6</text>
<text x="223" y="950" font-size="24" text-anchor="end" textLength="32" lengthAdjust="spacingAndGlyphs">2.4</text>
<text x="223" y="1025.7" font-size="24" text-anchor="end" textLength="32" lengthAdjust="spacingAndGlyphs">2.2</text>
<text x="223" y="1101.4" font-size="24" text-anchor="end" textLength="32" lengthAdjust="spacingAndGlyphs">2.0</text>
<text x="223" y="1177.1" font-size="24" text-anchor="end" textLength="32" lengthAdjust="spacingAndGlyphs">1.8</text>
<text x="223" y="1252.8" font-size="24" text-anchor="end" textLength="32" lengthAdjust="spacingAndGlyphs">1.6</text>
<text x="223" y="1328.5" font-size="24" text-anchor="end" textLength="32" lengthAdjust="spacingAndGlyphs">1.4</text>
<text x="223" y="1404.2" font-size="24" text-anchor="end" textLength="32" lengthAdjust="spacingAndGlyphs">1.2</text>
<text x="257.6" y="1490.3" font-size="24" text-anchor="middle">0</text>
<text x="368.2" y="1495.2" font-size="24" textLength="49.6" lengthAdjust="spacingAndGlyphs">1x10</text>
<text x="418.2" y="1482.7" font-size="16">6</text>
<text x="507.6" y="1495.2" font-size="24" textLength="49.6" lengthAdjust="spacingAndGlyphs">2x10</text>
<text x="557.6" y="1482.7" font-size="16">6</text>
<text x="647" y="1495.2" font-size="24" textLength="49.6" lengthAdjust="spacingAndGlyphs">3x10</text>
<text x="697" y="1482.7" font-size="16">6</text>
<text x="786.4" y="1495.2" font-size="24" textLength="49.6" lengthAdjust="spacingAndGlyphs">4x10</text>
<text x="836.4" y="1482.7" font-size="16">6</text>
<text x="925.8" y="1495.2" font-size="24" textLength="49.6" lengthAdjust="spacingAndGlyphs">5x10</text>
<text x="975.8" y="1482.7" font-size="16">6</text>
<text x="504" y="1549.1" font-size="30" textLength="204.5" lengthAdjust="spacingAndGlyphs">Frequency (Hz)</text>
<text transform="translate(166.4,1298.5) rotate(-90)" font-size="30" textLength="255" lengthAdjust="spacingAndGlyphs">Dielectric Constant</text>
<text x="269.3" y="901.3" font-size="31.5">b</text>
<rect x="755.7" y="892.2" width="228.2" height="155.2" fill="#fff" stroke="#333" stroke-width="1.2"/>
<path d="M774.4 918.1H832.8" stroke="#000" stroke-width="0.9" stroke-opacity="0.9"/>
<rect x="797.4" y="912.2" width="12" height="11.7" fill="#000"/>
<text x="840.5" y="926.9" font-size="28" textLength="91.5" lengthAdjust="spacingAndGlyphs">nSiR B</text>
<path d="M774.4 956H832.8" stroke="#f00" stroke-width="1" stroke-opacity="0.8"/>
<ellipse cx="803.4" cy="956" rx="6.55" ry="6.55" fill="#f00"/>
<text x="840.5" y="964.8" font-size="28" textLength="126" lengthAdjust="spacingAndGlyphs">SNC 15 B</text>
<path d="M774.4 993.9H832.8" stroke="#00f" stroke-width="1" stroke-opacity="0.75"/>
<path fill="#00f" d="M803.4 984.9l7.7 13.5h-15.4z"/>
<text x="840.5" y="1002.7" font-size="28" textLength="133.5" lengthAdjust="spacingAndGlyphs">SNC 2.5 B</text>
<path d="M774.4 1032H832.8" stroke="#f0f" stroke-width="1" stroke-opacity="0.55"/>
<path fill="#f0f" d="M803.4 1040.7l7.7 -13.1h-15.4z"/>
<text x="840.5" y="1040.8" font-size="28" textLength="111" lengthAdjust="spacingAndGlyphs">SNC 5 B</text>
</g>
<text x="585.5" y="1597" font-family="'Liberation Serif', serif" font-size="27.5" text-anchor="middle" fill="#000">(<tspan font-weight="bold">b</tspan>)</text>
</svg>
</body></html>
